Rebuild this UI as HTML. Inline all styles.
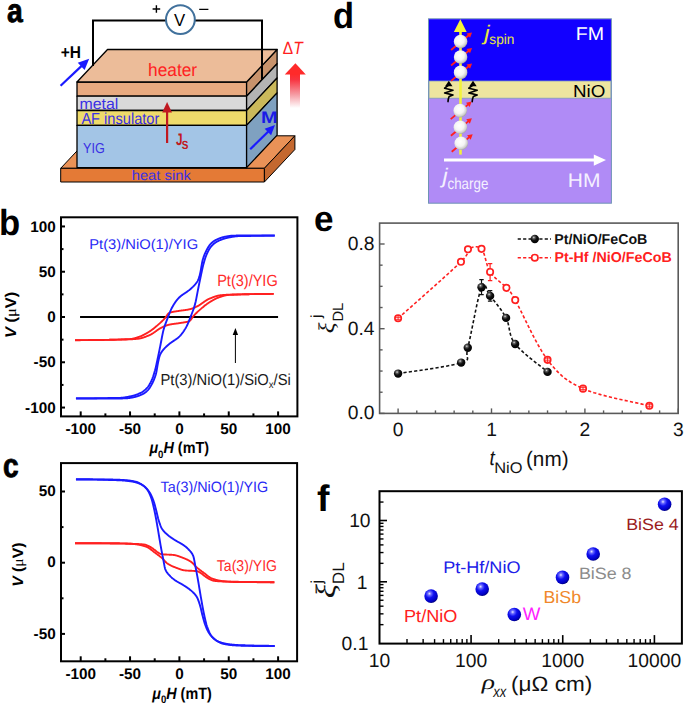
<!DOCTYPE html>
<html><head><meta charset="utf-8"><style>html,body{margin:0;padding:0;background:#fff;} svg{display:block;text-rendering:geometricPrecision;}</style></head>
<body><svg width="685" height="706" viewBox="0 0 685 706">
<rect width="685" height="706" fill="#fff"/>
<defs>
<radialGradient id="gw" cx="0.42" cy="0.38" r="0.62">
 <stop offset="0" stop-color="#ffffff"/><stop offset="0.55" stop-color="#f4f4f4"/><stop offset="0.85" stop-color="#cfcfcf"/><stop offset="1" stop-color="#a8a8a8"/>
</radialGradient>
<radialGradient id="gb" cx="0.38" cy="0.32" r="0.7">
 <stop offset="0" stop-color="#e8e8ff"/><stop offset="0.18" stop-color="#6a6aff"/><stop offset="0.45" stop-color="#1010f0"/><stop offset="0.85" stop-color="#0000c0"/><stop offset="1" stop-color="#00007a"/>
</radialGradient>
<radialGradient id="gk" cx="0.38" cy="0.32" r="0.7">
 <stop offset="0" stop-color="#e0e0e0"/><stop offset="0.2" stop-color="#606060"/><stop offset="0.5" stop-color="#101010"/><stop offset="1" stop-color="#000"/>
</radialGradient>
<linearGradient id="gr" x1="0" y1="0" x2="0" y2="1">
 <stop offset="0" stop-color="#ff2a2a"/><stop offset="0.15" stop-color="#f83440"/><stop offset="0.55" stop-color="#f59aa2"/><stop offset="0.92" stop-color="#ffffff"/>
</linearGradient>
</defs>
<g id="La" transform="translate(6.927,22.089) scale(0.7752,0.9030)"><text x="0" y="0" font-family='"Liberation Sans", sans-serif' font-size="36.5" fill="#000" font-weight="bold" font-style="normal" text-anchor="start" stroke="#000" stroke-width="0.9">a</text></g>
<g id="Lb" transform="translate(-0.985,234.968) scale(0.9506,0.9944)"><text x="0" y="0" font-family='"Liberation Sans", sans-serif' font-size="36.5" fill="#000" font-weight="bold" font-style="normal" text-anchor="start" >b</text></g>
<g id="Lc" transform="translate(3.025,476.686) scale(0.7706,0.9204)"><text x="0" y="0" font-family='"Liberation Sans", sans-serif' font-size="36.5" fill="#000" font-weight="bold" font-style="normal" text-anchor="start" stroke="#000" stroke-width="0.9">c</text></g>
<g id="Ld" transform="translate(332.888,27.514) scale(0.9433,0.9946)"><text x="0" y="0" font-family='"Liberation Sans", sans-serif' font-size="36.5" fill="#000" font-weight="bold" font-style="normal" text-anchor="start" >d</text></g>
<g id="Le" transform="translate(313.957,231.006) scale(0.9616,0.9834)"><text x="0" y="0" font-family='"Liberation Sans", sans-serif' font-size="36.5" fill="#000" font-weight="bold" font-style="normal" text-anchor="start" >e</text></g>
<g id="Lf" transform="translate(316.959,510.987) scale(1.0261,1.0080)"><text x="0" y="0" font-family='"Liberation Sans", sans-serif' font-size="36.5" fill="#000" font-weight="bold" font-style="normal" text-anchor="start" >f</text></g>
<polygon points="60.7,168.3 264.4,168.3 294.9,135.8 91.2,135.8" fill="#ea9257" stroke="#000" stroke-width="1.0" stroke-linejoin="round"/>
<polygon points="60.7,168.3 264.4,168.3 264.4,182 60.7,182" fill="#e47a36" stroke="#000" stroke-width="1.0" stroke-linejoin="round"/>
<polygon points="264.4,168.3 294.9,135.8 294.9,149.5 264.4,182" fill="#c4682f" stroke="#000" stroke-width="1.0" stroke-linejoin="round"/>
<polygon points="77,82 246.6,82 246.6,96.2 77,96.2" fill="#e8aa80" stroke="#000" stroke-width="1.3" stroke-linejoin="round"/>
<polygon points="246.6,82 277.1,49.5 277.1,63.7 246.6,96.2" fill="#c8936c" stroke="#000" stroke-width="1.3" stroke-linejoin="round"/>
<polygon points="77,96.2 246.6,96.2 246.6,110.5 77,110.5" fill="#d9d9d9" stroke="#000" stroke-width="1.3" stroke-linejoin="round"/>
<polygon points="246.6,96.2 277.1,63.7 277.1,78 246.6,110.5" fill="#b4b4b4" stroke="#000" stroke-width="1.3" stroke-linejoin="round"/>
<polygon points="77,110.5 246.6,110.5 246.6,125.4 77,125.4" fill="#efdb6b" stroke="#000" stroke-width="1.3" stroke-linejoin="round"/>
<polygon points="246.6,110.5 277.1,78 277.1,92.9 246.6,125.4" fill="#cbb95b" stroke="#000" stroke-width="1.3" stroke-linejoin="round"/>
<polygon points="77,125.4 246.6,125.4 246.6,167.6 77,167.6" fill="#a3c5e6" stroke="#000" stroke-width="1.3" stroke-linejoin="round"/>
<polygon points="246.6,125.4 277.1,92.9 277.1,135.1 246.6,167.6" fill="#7fa1c0" stroke="#000" stroke-width="1.3" stroke-linejoin="round"/>
<polygon points="77,82 246.6,82 277.1,49.5 107.5,49.5" fill="#ecbc99" stroke="#000" stroke-width="1.3" stroke-linejoin="round"/>
<path d="M93,66 V20.4 H166 M194.8,20.4 H262 V80" fill="none" stroke="#000" stroke-width="2"/>
<circle cx="180.4" cy="19.6" r="14.4" fill="#fff" stroke="#41719c" stroke-width="2"/>
<g id="aV" transform="translate(174.045,25.640) scale(1.0148,1.0492)"><text x="0" y="0" font-family='"Liberation Sans", sans-serif' font-size="16.5" fill="#000" font-weight="normal" font-style="normal" text-anchor="start" >V</text></g>
<path d="M152.6,9 H160.2 M156.4,5.2 V12.8 M199.2,9.4 H208.4" stroke="#000" stroke-width="1.4"/>
<g id="aH" transform="translate(60.695,58.085) scale(0.9686,1.0610)"><text x="0" y="0" font-family='"Liberation Sans", sans-serif' font-size="16" fill="#000" font-weight="bold" font-style="normal" text-anchor="start" >+H</text></g>
<g id="aheater" transform="translate(148.053,75.747) scale(0.9874,1.0344)"><text x="0" y="0" font-family='"Liberation Sans", sans-serif' font-size="17.5" fill="#ff2222" font-weight="normal" font-style="normal" text-anchor="start" >heater</text></g>
<g id="ametal" transform="translate(79.396,109.387) scale(0.9657,0.9310)"><text x="0" y="0" font-family='"Liberation Sans", sans-serif' font-size="16.5" fill="#3a30e4" font-weight="normal" font-style="normal" text-anchor="start" >metal</text></g>
<g id="aAF" transform="translate(81.383,123.929) scale(0.8849,0.9693)"><text x="0" y="0" font-family='"Liberation Sans", sans-serif' font-size="16.5" fill="#3a30e4" font-weight="normal" font-style="normal" text-anchor="start" >AF insulator</text></g>
<g id="aYIG" transform="translate(82.957,153.483) scale(0.8428,0.9651)"><text x="0" y="0" font-family='"Liberation Sans", sans-serif' font-size="15" fill="#3a30e4" font-weight="normal" font-style="normal" text-anchor="start" >YIG</text></g>
<g id="asink" transform="translate(131.667,180.033) scale(0.9843,0.9321)"><text x="0" y="0" font-family='"Liberation Sans", sans-serif' font-size="15" fill="#3a30e4" font-weight="normal" font-style="normal" text-anchor="start" >heat sink</text></g>
<path d="M167.1,143 V111" stroke="#c01820" stroke-width="2.2"/><polygon points="167.1,102 162.2,112.6 172,112.6" fill="#c01820"/>
<g id="aJ" transform="translate(176.059,144.504) scale(0.7348,1.0354)"><text x="0" y="0" font-family='"Liberation Sans", sans-serif' font-size="16" fill="#c01820" font-weight="bold" font-style="normal" text-anchor="start" >J</text></g>
<g id="aS" transform="translate(181.715,148.567) scale(0.9078,1.0818)"><text x="0" y="0" font-family='"Liberation Sans", sans-serif' font-size="11" fill="#c01820" font-weight="bold" font-style="normal" text-anchor="start" >S</text></g>
<line x1="60.6" y1="85.7" x2="81.92" y2="65.65" stroke="#1a1aff" stroke-width="2.2"/>
<polygon points="89.2,58.8 84.61,69.98 77.76,62.69" fill="#1a1aff"/>
<line x1="250.2" y1="149.3" x2="268.58" y2="131.21" stroke="#1a1aff" stroke-width="2.2"/>
<polygon points="275,124.9 271.1,135.19 264.65,128.63" fill="#1a1aff"/>
<g id="aM" transform="translate(260.910,123.120) scale(1.2098,1.0255)"><text x="0" y="0" font-family='"Liberation Sans", sans-serif' font-size="16.5" fill="#1a1ae6" font-weight="bold" font-style="normal" text-anchor="start" >M</text></g>
<g id="aT" transform="translate(282.818,54.447) scale(0.9116,1.0392)"><text x="0" y="0" font-family='"Liberation Sans", sans-serif' font-size="17" fill="#ff2020" font-weight="normal" font-style="normal" text-anchor="start" >&#916;<tspan font-style="italic">T</tspan></text></g>
<rect x="290" y="74" width="10" height="37" fill="url(#gr)"/><polygon points="295.4,63.3 284.8,74.6 305.8,74.6" fill="#ff2a2a"/>
<rect x="428.5" y="18.8" width="182.89999999999998" height="184.39999999999998" fill="#b08bf6" stroke="#6f93b5" stroke-width="1"/>
<rect x="429.0" y="19.3" width="181.89999999999998" height="61.7" fill="#1200ff"/>
<rect x="429.0" y="81" width="181.89999999999998" height="17.2" fill="#ede5a0" stroke="#7f9cbc" stroke-width="0.8"/>
<line x1="460.5" y1="30" x2="460.5" y2="154.6" stroke="#f3f33a" stroke-width="2.6"/>
<polygon points="460.3,19.3 453.9,32.1 466.7,32.1" fill="#f3f33a"/>
<line x1="451.1" y1="50" x2="469.03" y2="35.06" stroke="#ff2020" stroke-width="1.8"/>
<polygon points="472.1,32.5 470.05,37.85 466.47,33.55" fill="#ff2020"/>
<line x1="451.1" y1="65.5" x2="469.03" y2="50.56" stroke="#ff2020" stroke-width="1.8"/>
<polygon points="472.1,48 470.05,53.35 466.47,49.05" fill="#ff2020"/>
<line x1="451.1" y1="80.9" x2="469.03" y2="65.96" stroke="#ff2020" stroke-width="1.8"/>
<polygon points="472.1,63.4 470.05,68.75 466.47,64.45" fill="#ff2020"/>
<line x1="450.7" y1="119.1" x2="468.63" y2="104.16" stroke="#ff2020" stroke-width="1.8"/>
<polygon points="471.7,101.6 469.65,106.95 466.07,102.65" fill="#ff2020"/>
<line x1="450.9" y1="135.8" x2="468.83" y2="120.86" stroke="#ff2020" stroke-width="1.8"/>
<polygon points="471.9,118.3 469.85,123.65 466.27,119.35" fill="#ff2020"/>
<line x1="451.7" y1="151.8" x2="469.63" y2="136.86" stroke="#ff2020" stroke-width="1.8"/>
<polygon points="472.7,134.3 470.65,139.65 467.07,135.35" fill="#ff2020"/>
<circle cx="460.6" cy="41.5" r="6.8" fill="url(#gw)"/>
<circle cx="460.6" cy="57" r="6.8" fill="url(#gw)"/>
<circle cx="460.6" cy="72.4" r="6.8" fill="url(#gw)"/>
<circle cx="460.2" cy="110.6" r="6.8" fill="url(#gw)"/>
<circle cx="460.4" cy="127.3" r="6.8" fill="url(#gw)"/>
<circle cx="461.2" cy="143.3" r="6.8" fill="url(#gw)"/>
<path d="M448.8,85 L444.6,88.2 L453.0,90.2 L444.6,92.9 L453.0,95 L449.1,96.6 Q448.2,98.5 448.0,101.6" fill="none" stroke="#000" stroke-width="1.6" stroke-linejoin="round" stroke-linecap="round"/>
<polygon points="448.8,80.8 445.1,86.2 452.5,86.2" fill="#000"/>
<path d="M473,85 L468.8,88.2 L477.2,90.2 L468.8,92.9 L477.2,95 L473.3,96.6 Q472.4,98.5 472.2,101.6" fill="none" stroke="#000" stroke-width="1.6" stroke-linejoin="round" stroke-linecap="round"/>
<polygon points="473,80.8 469.3,86.2 476.7,86.2" fill="#000"/>
<g id="dj1" transform="translate(484.216,39.674) scale(1.0867,0.9517)"><text x="0" y="0" font-family='"Liberation Sans", sans-serif' font-size="22" fill="#e8e83c" font-weight="normal" font-style="italic" text-anchor="start" >j</text></g>
<g id="dspin" transform="translate(489.340,44.439) scale(0.8256,0.8478)"><text x="0" y="0" font-family='"Liberation Sans", sans-serif' font-size="16.5" fill="#e8e83c" font-weight="normal" font-style="normal" text-anchor="start" >spin</text></g>
<g id="dFM" transform="translate(575.655,40.087) scale(1.1203,1.0570)"><text x="0" y="0" font-family='"Liberation Sans", sans-serif' font-size="17.5" fill="#fff" font-weight="normal" font-style="normal" text-anchor="start" >FM</text></g>
<g id="dNiO" transform="translate(573.009,96.867) scale(1.0742,0.9885)"><text x="0" y="0" font-family='"Liberation Sans", sans-serif' font-size="17.5" fill="#000" font-weight="normal" font-style="normal" text-anchor="start" >NiO</text></g>
<line x1="444" y1="160" x2="596" y2="160" stroke="#fff" stroke-width="3"/><polygon points="606,160 593.8,154.6 593.8,165.7" fill="#fff"/>
<g id="dj2" transform="translate(442.534,183.033) scale(1.0498,0.9627)"><text x="0" y="0" font-family='"Liberation Sans", sans-serif' font-size="22" fill="#f4f0ff" font-weight="normal" font-style="italic" text-anchor="start" >j</text></g>
<g id="dcharge" transform="translate(447.469,188.504) scale(0.8098,0.9686)"><text x="0" y="0" font-family='"Liberation Sans", sans-serif' font-size="16.5" fill="#f4f0ff" font-weight="normal" font-style="normal" text-anchor="start" >charge</text></g>
<g id="dHM" transform="translate(567.828,186.572) scale(1.2010,1.1191)"><text x="0" y="0" font-family='"Liberation Sans", sans-serif' font-size="17.5" fill="#f4f0ff" font-weight="normal" font-style="normal" text-anchor="start" >HM</text></g>
<line x1="80.05" y1="317" x2="278.07" y2="317" stroke="#000" stroke-width="1.8"/>
<path d="M74.98,340.18L75.26,340.18L75.54,340.18L75.83,340.18L76.11,340.18L76.4,340.18L76.68,340.18L76.96,340.18L77.25,340.18L77.53,340.18L77.82,340.18L78.1,340.18L78.39,340.18L78.67,340.18L78.95,340.18L79.24,340.18L79.52,340.18L79.81,340.18L80.09,340.18L80.38,340.18L80.66,340.17L80.94,340.17L81.23,340.17L81.51,340.17L81.8,340.17L82.08,340.17L82.37,340.17L82.65,340.17L82.93,340.17L83.22,340.17L83.5,340.17L83.79,340.16L84.07,340.16L84.36,340.16L84.64,340.16L84.92,340.16L85.21,340.16L85.49,340.16L85.78,340.15L86.06,340.15L86.35,340.15L86.63,340.15L86.91,340.15L87.2,340.15L87.48,340.14L87.77,340.14L88.05,340.14L88.34,340.14L88.62,340.14L88.9,340.13L89.19,340.13L89.47,340.13L89.76,340.13L90.04,340.12L90.33,340.12L90.61,340.12L90.89,340.12L91.18,340.11L91.46,340.11L91.75,340.11L92.03,340.11L92.32,340.1L92.6,340.1L92.88,340.1L93.17,340.09L93.45,340.09L93.74,340.09L94.02,340.08L94.31,340.08L94.59,340.08L94.87,340.08L95.16,340.07L95.44,340.07L95.73,340.06L96.01,340.06L96.3,340.06L96.58,340.05L96.86,340.05L97.15,340.05L97.43,340.04L97.72,340.04L98,340.03L98.29,340.03L98.57,340.03L98.85,340.02L99.14,340.02L99.42,340.01L99.71,340.01L99.99,340L100.28,340L100.56,339.99L100.84,339.99L101.13,339.98L101.41,339.98L101.7,339.98L101.98,339.97L102.26,339.97L102.55,339.96L102.83,339.95L103.12,339.95L103.4,339.94L103.69,339.94L103.97,339.93L104.25,339.93L104.54,339.92L104.82,339.92L105.11,339.91L105.39,339.9L105.68,339.9L105.96,339.89L106.24,339.89L106.53,339.88L106.81,339.87L107.1,339.87L107.38,339.86L107.67,339.86L107.95,339.85L108.23,339.84L108.52,339.84L108.8,339.83L109.09,339.82L109.37,339.82L109.66,339.81L109.94,339.8L110.22,339.79L110.51,339.79L110.79,339.78L111.08,339.77L111.36,339.77L111.65,339.76L111.93,339.75L112.21,339.74L112.5,339.73L112.78,339.73L113.07,339.72L113.35,339.71L113.64,339.7L113.92,339.69L114.2,339.69L114.49,339.68L114.77,339.67L115.06,339.66L115.34,339.65L115.63,339.64L115.91,339.64L116.19,339.63L116.48,339.62L116.76,339.61L117.05,339.6L117.33,339.59L117.62,339.58L117.9,339.57L118.18,339.56L118.47,339.55L118.75,339.54L119.04,339.53L119.32,339.52L119.61,339.51L119.89,339.5L120.17,339.49L120.46,339.48L120.74,339.47L121.03,339.46L121.31,339.45L121.6,339.44L121.88,339.43L122.16,339.42L122.45,339.41L122.73,339.4L123.02,339.39L123.3,339.38L123.59,339.37L123.87,339.36L124.15,339.35L124.44,339.33L124.72,339.32L125.01,339.31L125.29,339.3L125.58,339.29L125.86,339.28L126.14,339.26L126.43,339.25L126.71,339.24L127,339.23L127.28,339.22L127.57,339.2L127.85,339.19L128.13,339.18L128.42,339.16L128.7,339.15L128.99,339.14L129.27,339.13L129.55,339.11L129.84,339.1L130.12,339.09L130.41,339.07L130.69,339.04L130.98,339.01L131.26,338.98L131.54,338.94L131.83,338.89L132.11,338.85L132.4,338.79L132.68,338.74L132.97,338.67L133.25,338.61L133.53,338.54L133.82,338.47L134.1,338.4L134.39,338.32L134.67,338.24L134.96,338.16L135.24,338.08L135.52,337.99L135.81,337.91L136.09,337.82L136.38,337.73L136.66,337.64L136.95,337.54L137.23,337.45L137.51,337.36L137.8,337.26L138.08,337.17L138.37,337.08L138.65,336.98L138.94,336.89L139.22,336.79L139.5,336.69L139.79,336.59L140.07,336.48L140.36,336.37L140.64,336.26L140.93,336.14L141.21,336.02L141.49,335.9L141.78,335.77L142.06,335.64L142.35,335.51L142.63,335.37L142.92,335.23L143.2,335.09L143.48,334.95L143.77,334.81L144.05,334.66L144.34,334.51L144.62,334.36L144.91,334.2L145.19,334.05L145.47,333.89L145.76,333.73L146.04,333.57L146.33,333.4L146.61,333.24L146.9,333.07L147.18,332.9L147.46,332.74L147.75,332.57L148.03,332.39L148.32,332.22L148.6,332.05L148.89,331.88L149.17,331.7L149.45,331.52L149.74,331.34L150.02,331.16L150.31,330.97L150.59,330.77L150.88,330.58L151.16,330.38L151.44,330.18L151.73,329.97L152.01,329.76L152.3,329.55L152.58,329.34L152.87,329.12L153.15,328.9L153.43,328.68L153.72,328.45L154,328.23L154.29,328L154.57,327.77L154.85,327.53L155.14,327.3L155.42,327.06L155.71,326.82L155.99,326.58L156.28,326.34L156.56,326.1L156.84,325.86L157.13,325.61L157.41,325.37L157.7,325.12L157.98,324.87L158.27,324.62L158.55,324.37L158.83,324.13L159.12,323.88L159.4,323.63L159.69,323.37L159.97,323.12L160.26,322.86L160.54,322.6L160.82,322.34L161.11,322.07L161.39,321.8L161.68,321.53L161.96,321.26L162.25,320.98L162.53,320.7L162.81,320.42L163.1,320.14L163.38,319.85L163.67,319.56L163.95,319.26L164.24,318.96L164.52,318.66L164.8,318.35L165.09,318.04L165.37,317.7L165.66,317.32L165.94,316.93L166.23,316.51L166.51,316.09L166.79,315.66L167.08,315.24L167.36,314.83L167.65,314.43L167.93,314.06L168.22,313.73L168.5,313.43L168.78,313.18L169.07,312.98L169.35,312.84L169.64,312.73L169.92,312.63L170.21,312.54L170.49,312.45L170.77,312.36L171.06,312.28L171.34,312.21L171.63,312.14L171.91,312.07L172.2,312.01L172.48,311.95L172.76,311.89L173.05,311.84L173.33,311.78L173.62,311.73L173.9,311.69L174.19,311.64L174.47,311.6L174.75,311.55L175.04,311.51L175.32,311.47L175.61,311.43L175.89,311.39L176.18,311.35L176.46,311.3L176.74,311.26L177.03,311.22L177.31,311.18L177.6,311.13L177.88,311.08L178.17,311.03L178.45,310.98L178.73,310.94L179.02,310.89L179.3,310.84L179.59,310.8L179.87,310.76L180.16,310.72L180.44,310.67L180.72,310.63L181.01,310.6L181.29,310.56L181.58,310.52L181.86,310.48L182.14,310.44L182.43,310.41L182.71,310.37L183,310.33L183.28,310.3L183.57,310.26L183.85,310.23L184.13,310.19L184.42,310.15L184.7,310.11L184.99,310.08L185.27,310.04L185.56,310L185.84,309.96L186.12,309.91L186.41,309.87L186.69,309.83L186.98,309.78L187.26,309.73L187.55,309.69L187.83,309.64L188.11,309.59L188.4,309.53L188.68,309.48L188.97,309.42L189.25,309.36L189.54,309.3L189.82,309.24L190.1,309.17L190.39,309.1L190.67,309.02L190.96,308.94L191.24,308.85L191.53,308.76L191.81,308.67L192.09,308.57L192.38,308.47L192.66,308.36L192.95,308.25L193.23,308.14L193.52,308.02L193.8,307.9L194.08,307.78L194.37,307.65L194.65,307.53L194.94,307.4L195.22,307.27L195.51,307.14L195.79,307L196.07,306.87L196.36,306.74L196.64,306.6L196.93,306.46L197.21,306.33L197.5,306.19L197.78,306.04L198.06,305.89L198.35,305.73L198.63,305.57L198.92,305.4L199.2,305.23L199.49,305.05L199.77,304.86L200.05,304.68L200.34,304.48L200.62,304.29L200.91,304.09L201.19,303.9L201.48,303.69L201.76,303.49L202.04,303.29L202.33,303.08L202.61,302.88L202.9,302.67L203.18,302.47L203.47,302.26L203.75,302.06L204.03,301.85L204.32,301.65L204.6,301.45L204.89,301.26L205.17,301.06L205.46,300.87L205.74,300.69L206.02,300.5L206.31,300.32L206.59,300.15L206.88,299.98L207.16,299.82L207.45,299.66L207.73,299.51L208.01,299.36L208.3,299.23L208.58,299.09L208.87,298.97L209.15,298.85L209.43,298.73L209.72,298.61L210,298.49L210.29,298.37L210.57,298.25L210.86,298.14L211.14,298.02L211.42,297.9L211.71,297.79L211.99,297.67L212.28,297.56L212.56,297.45L212.85,297.34L213.13,297.23L213.41,297.12L213.7,297.02L213.98,296.91L214.27,296.81L214.55,296.71L214.84,296.62L215.12,296.52L215.4,296.43L215.69,296.34L215.97,296.25L216.26,296.16L216.54,296.08L216.83,296L217.11,295.92L217.39,295.85L217.68,295.78L217.96,295.71L218.25,295.65L218.53,295.59L218.82,295.53L219.1,295.48L219.38,295.43L219.67,295.38L219.95,295.34L220.24,295.3L220.52,295.27L220.81,295.24L221.09,295.21L221.37,295.18L221.66,295.15L221.94,295.13L222.23,295.1L222.51,295.07L222.8,295.05L223.08,295.02L223.36,295L223.65,294.98L223.93,294.95L224.22,294.93L224.5,294.91L224.79,294.89L225.07,294.87L225.35,294.85L225.64,294.83L225.92,294.82L226.21,294.8L226.49,294.78L226.78,294.77L227.06,294.75L227.34,294.74L227.63,294.72L227.91,294.71L228.2,294.7L228.48,294.69L228.77,294.68L229.05,294.67L229.33,294.66L229.62,294.65L229.9,294.64L230.19,294.63L230.47,294.62L230.76,294.61L231.04,294.6L231.32,294.6L231.61,294.59L231.89,294.58L232.18,294.57L232.46,294.56L232.75,294.56L233.03,294.55L233.31,294.54L233.6,294.53L233.88,294.52L234.17,294.52L234.45,294.51L234.73,294.5L235.02,294.49L235.3,294.49L235.59,294.48L235.87,294.47L236.16,294.46L236.44,294.46L236.72,294.45L237.01,294.44L237.29,294.44L237.58,294.43L237.86,294.42L238.15,294.41L238.43,294.41L238.71,294.4L239,294.39L239.28,294.39L239.57,294.38L239.85,294.37L240.14,294.37L240.42,294.36L240.7,294.35L240.99,294.35L241.27,294.34L241.56,294.33L241.84,294.33L242.13,294.32L242.41,294.31L242.69,294.31L242.98,294.3L243.26,294.29L243.55,294.29L243.83,294.28L244.12,294.28L244.4,294.27L244.68,294.26L244.97,294.26L245.25,294.25L245.54,294.25L245.82,294.24L246.11,294.23L246.39,294.23L246.67,294.22L246.96,294.22L247.24,294.21L247.53,294.21L247.81,294.2L248.1,294.19L248.38,294.19L248.66,294.18L248.95,294.18L249.23,294.17L249.52,294.17L249.8,294.16L250.09,294.16L250.37,294.15L250.65,294.15L250.94,294.14L251.22,294.14L251.51,294.13L251.79,294.13L252.08,294.12L252.36,294.12L252.64,294.11L252.93,294.11L253.21,294.1L253.5,294.1L253.78,294.1L254.07,294.09L254.35,294.09L254.63,294.08L254.92,294.08L255.2,294.07L255.49,294.07L255.77,294.07L256.06,294.06L256.34,294.06L256.62,294.05L256.91,294.05L257.19,294.05L257.48,294.04L257.76,294.04L258.05,294.03L258.33,294.03L258.61,294.03L258.9,294.02L259.18,294.02L259.47,294.02L259.75,294.01L260.04,294.01L260.32,294.01L260.6,294L260.89,294L261.17,294L261.46,293.99L261.74,293.99L262.02,293.99L262.31,293.98L262.59,293.98L262.88,293.98L263.16,293.98L263.45,293.97L263.73,293.97L264.01,293.97L264.3,293.97L264.58,293.96L264.87,293.96L265.15,293.96L265.44,293.96L265.72,293.95L266,293.95L266.29,293.95L266.57,293.95L266.86,293.95L267.14,293.94L267.43,293.94L267.71,293.94L267.99,293.94L268.28,293.94L268.56,293.93L268.85,293.93L269.13,293.93L269.42,293.93L269.7,293.93L269.98,293.93L270.27,293.93L270.55,293.92L270.84,293.92L271.12,293.92L271.41,293.92L271.69,293.92L271.97,293.92L272.26,293.92L272.54,293.92L272.83,293.92L273.11,293.91L273.4,293.91L273.68,293.91" fill="none" stroke="#ff2020" stroke-width="1.9" stroke-linejoin="round"/>
<path d="M74.98,340.09L75.26,340.09L75.54,340.09L75.83,340.09L76.11,340.09L76.4,340.09L76.68,340.09L76.96,340.09L77.25,340.09L77.53,340.09L77.82,340.09L78.1,340.09L78.39,340.09L78.67,340.09L78.95,340.09L79.24,340.09L79.52,340.09L79.81,340.09L80.09,340.09L80.38,340.09L80.66,340.09L80.94,340.09L81.23,340.09L81.51,340.09L81.8,340.09L82.08,340.09L82.37,340.09L82.65,340.09L82.93,340.09L83.22,340.09L83.5,340.09L83.79,340.09L84.07,340.09L84.36,340.09L84.64,340.09L84.92,340.09L85.21,340.09L85.49,340.09L85.78,340.08L86.06,340.08L86.35,340.08L86.63,340.08L86.91,340.08L87.2,340.08L87.48,340.08L87.77,340.08L88.05,340.08L88.34,340.07L88.62,340.07L88.9,340.07L89.19,340.07L89.47,340.07L89.76,340.07L90.04,340.07L90.33,340.06L90.61,340.06L90.89,340.06L91.18,340.06L91.46,340.06L91.75,340.05L92.03,340.05L92.32,340.05L92.6,340.05L92.88,340.05L93.17,340.04L93.45,340.04L93.74,340.04L94.02,340.04L94.31,340.03L94.59,340.03L94.87,340.03L95.16,340.03L95.44,340.02L95.73,340.02L96.01,340.02L96.3,340.02L96.58,340.01L96.86,340.01L97.15,340.01L97.43,340L97.72,340L98,340L98.29,339.99L98.57,339.99L98.85,339.99L99.14,339.98L99.42,339.98L99.71,339.98L99.99,339.97L100.28,339.97L100.56,339.97L100.84,339.96L101.13,339.96L101.41,339.95L101.7,339.95L101.98,339.95L102.26,339.94L102.55,339.94L102.83,339.93L103.12,339.93L103.4,339.93L103.69,339.92L103.97,339.92L104.25,339.91L104.54,339.91L104.82,339.9L105.11,339.9L105.39,339.9L105.68,339.89L105.96,339.89L106.24,339.88L106.53,339.88L106.81,339.87L107.1,339.87L107.38,339.86L107.67,339.86L107.95,339.85L108.23,339.85L108.52,339.84L108.8,339.84L109.09,339.83L109.37,339.83L109.66,339.82L109.94,339.82L110.22,339.81L110.51,339.81L110.79,339.8L111.08,339.79L111.36,339.79L111.65,339.78L111.93,339.78L112.21,339.77L112.5,339.77L112.78,339.76L113.07,339.75L113.35,339.75L113.64,339.74L113.92,339.74L114.2,339.73L114.49,339.72L114.77,339.72L115.06,339.71L115.34,339.71L115.63,339.7L115.91,339.69L116.19,339.69L116.48,339.68L116.76,339.67L117.05,339.67L117.33,339.66L117.62,339.65L117.9,339.65L118.18,339.64L118.47,339.63L118.75,339.63L119.04,339.62L119.32,339.61L119.61,339.61L119.89,339.6L120.17,339.59L120.46,339.59L120.74,339.58L121.03,339.57L121.31,339.56L121.6,339.56L121.88,339.55L122.16,339.54L122.45,339.54L122.73,339.53L123.02,339.52L123.3,339.51L123.59,339.51L123.87,339.5L124.15,339.49L124.44,339.48L124.72,339.48L125.01,339.47L125.29,339.46L125.58,339.45L125.86,339.44L126.14,339.44L126.43,339.43L126.71,339.42L127,339.41L127.28,339.4L127.57,339.4L127.85,339.39L128.13,339.38L128.42,339.37L128.7,339.36L128.99,339.35L129.27,339.34L129.55,339.33L129.84,339.32L130.12,339.31L130.41,339.3L130.69,339.29L130.98,339.28L131.26,339.26L131.54,339.25L131.83,339.23L132.11,339.22L132.4,339.2L132.68,339.18L132.97,339.17L133.25,339.15L133.53,339.13L133.82,339.11L134.1,339.09L134.39,339.07L134.67,339.05L134.96,339.02L135.24,339L135.52,338.98L135.81,338.95L136.09,338.93L136.38,338.9L136.66,338.87L136.95,338.85L137.23,338.82L137.51,338.79L137.8,338.76L138.08,338.73L138.37,338.7L138.65,338.66L138.94,338.62L139.22,338.57L139.5,338.52L139.79,338.47L140.07,338.41L140.36,338.35L140.64,338.29L140.93,338.22L141.21,338.15L141.49,338.08L141.78,338L142.06,337.92L142.35,337.84L142.63,337.75L142.92,337.66L143.2,337.57L143.48,337.48L143.77,337.38L144.05,337.29L144.34,337.19L144.62,337.08L144.91,336.98L145.19,336.88L145.47,336.77L145.76,336.66L146.04,336.55L146.33,336.44L146.61,336.32L146.9,336.21L147.18,336.1L147.46,335.98L147.75,335.86L148.03,335.74L148.32,335.63L148.6,335.51L148.89,335.39L149.17,335.27L149.45,335.15L149.74,335.03L150.02,334.9L150.31,334.77L150.59,334.63L150.88,334.49L151.16,334.34L151.44,334.18L151.73,334.02L152.01,333.85L152.3,333.67L152.58,333.49L152.87,333.31L153.15,333.12L153.43,332.93L153.72,332.74L154,332.54L154.29,332.34L154.57,332.14L154.85,331.94L155.14,331.74L155.42,331.53L155.71,331.33L155.99,331.12L156.28,330.91L156.56,330.71L156.84,330.51L157.13,330.3L157.41,330.1L157.7,329.9L157.98,329.71L158.27,329.51L158.55,329.32L158.83,329.13L159.12,328.95L159.4,328.77L159.69,328.6L159.97,328.43L160.26,328.26L160.54,328.11L160.82,327.95L161.11,327.81L161.39,327.67L161.68,327.53L161.96,327.4L162.25,327.26L162.53,327.13L162.81,326.99L163.1,326.86L163.38,326.73L163.67,326.6L163.95,326.47L164.24,326.34L164.52,326.22L164.8,326.1L165.09,325.98L165.37,325.86L165.66,325.75L165.94,325.64L166.23,325.53L166.51,325.43L166.79,325.33L167.08,325.23L167.36,325.14L167.65,325.06L167.93,324.98L168.22,324.9L168.5,324.83L168.78,324.76L169.07,324.7L169.35,324.64L169.64,324.58L169.92,324.52L170.21,324.47L170.49,324.41L170.77,324.36L171.06,324.31L171.34,324.26L171.63,324.22L171.91,324.17L172.2,324.13L172.48,324.09L172.76,324.04L173.05,324L173.33,323.96L173.62,323.92L173.9,323.89L174.19,323.85L174.47,323.81L174.75,323.77L175.04,323.74L175.32,323.7L175.61,323.66L175.89,323.63L176.18,323.59L176.46,323.55L176.74,323.52L177.03,323.48L177.31,323.44L177.6,323.4L177.88,323.36L178.17,323.32L178.45,323.28L178.73,323.24L179.02,323.2L179.3,323.16L179.59,323.11L179.87,323.06L180.16,323.01L180.44,322.96L180.72,322.92L181.01,322.87L181.29,322.82L181.58,322.78L181.86,322.74L182.14,322.69L182.43,322.65L182.71,322.61L183,322.57L183.28,322.53L183.57,322.49L183.85,322.45L184.13,322.4L184.42,322.36L184.7,322.31L184.99,322.27L185.27,322.22L185.56,322.16L185.84,322.11L186.12,322.05L186.41,321.99L186.69,321.93L186.98,321.86L187.26,321.79L187.55,321.71L187.83,321.64L188.11,321.55L188.4,321.46L188.68,321.37L188.97,321.27L189.25,321.16L189.54,321.02L189.82,320.82L190.1,320.57L190.39,320.27L190.67,319.93L190.96,319.56L191.24,319.17L191.53,318.76L191.81,318.33L192.09,317.91L192.38,317.48L192.66,317.07L192.95,316.67L193.23,316.3L193.52,315.95L193.8,315.64L194.08,315.34L194.37,315.03L194.65,314.73L194.94,314.44L195.22,314.15L195.51,313.86L195.79,313.57L196.07,313.29L196.36,313.01L196.64,312.74L196.93,312.46L197.21,312.19L197.5,311.92L197.78,311.66L198.06,311.4L198.35,311.14L198.63,310.88L198.92,310.62L199.2,310.37L199.49,310.12L199.77,309.87L200.05,309.62L200.34,309.37L200.62,309.12L200.91,308.88L201.19,308.63L201.48,308.38L201.76,308.14L202.04,307.9L202.33,307.65L202.61,307.41L202.9,307.17L203.18,306.93L203.47,306.7L203.75,306.46L204.03,306.23L204.32,306L204.6,305.77L204.89,305.54L205.17,305.32L205.46,305.1L205.74,304.88L206.02,304.66L206.31,304.45L206.59,304.23L206.88,304.03L207.16,303.82L207.45,303.62L207.73,303.42L208.01,303.22L208.3,303.03L208.58,302.84L208.87,302.66L209.15,302.47L209.43,302.3L209.72,302.12L210,301.95L210.29,301.77L210.57,301.6L210.86,301.43L211.14,301.26L211.42,301.09L211.71,300.93L211.99,300.76L212.28,300.59L212.56,300.43L212.85,300.27L213.13,300.11L213.41,299.95L213.7,299.8L213.98,299.64L214.27,299.49L214.55,299.34L214.84,299.19L215.12,299.05L215.4,298.9L215.69,298.76L215.97,298.63L216.26,298.49L216.54,298.36L216.83,298.23L217.11,298.1L217.39,297.98L217.68,297.86L217.96,297.74L218.25,297.63L218.53,297.52L218.82,297.41L219.1,297.31L219.38,297.21L219.67,297.11L219.95,297.02L220.24,296.92L220.52,296.83L220.81,296.74L221.09,296.64L221.37,296.55L221.66,296.46L221.94,296.36L222.23,296.27L222.51,296.18L222.8,296.09L223.08,296.01L223.36,295.92L223.65,295.84L223.93,295.76L224.22,295.68L224.5,295.6L224.79,295.53L225.07,295.46L225.35,295.39L225.64,295.32L225.92,295.26L226.21,295.21L226.49,295.15L226.78,295.11L227.06,295.06L227.34,295.02L227.63,294.99L227.91,294.96L228.2,294.93L228.48,294.91L228.77,294.9L229.05,294.89L229.33,294.87L229.62,294.86L229.9,294.85L230.19,294.83L230.47,294.82L230.76,294.81L231.04,294.8L231.32,294.78L231.61,294.77L231.89,294.76L232.18,294.75L232.46,294.74L232.75,294.72L233.03,294.71L233.31,294.7L233.6,294.69L233.88,294.68L234.17,294.67L234.45,294.65L234.73,294.64L235.02,294.63L235.3,294.62L235.59,294.61L235.87,294.6L236.16,294.59L236.44,294.58L236.72,294.57L237.01,294.56L237.29,294.55L237.58,294.54L237.86,294.53L238.15,294.52L238.43,294.51L238.71,294.5L239,294.49L239.28,294.48L239.57,294.47L239.85,294.46L240.14,294.45L240.42,294.44L240.7,294.43L240.99,294.42L241.27,294.41L241.56,294.4L241.84,294.39L242.13,294.38L242.41,294.37L242.69,294.36L242.98,294.36L243.26,294.35L243.55,294.34L243.83,294.33L244.12,294.32L244.4,294.31L244.68,294.31L244.97,294.3L245.25,294.29L245.54,294.28L245.82,294.27L246.11,294.27L246.39,294.26L246.67,294.25L246.96,294.24L247.24,294.23L247.53,294.23L247.81,294.22L248.1,294.21L248.38,294.21L248.66,294.2L248.95,294.19L249.23,294.18L249.52,294.18L249.8,294.17L250.09,294.16L250.37,294.16L250.65,294.15L250.94,294.14L251.22,294.14L251.51,294.13L251.79,294.13L252.08,294.12L252.36,294.11L252.64,294.11L252.93,294.1L253.21,294.1L253.5,294.09L253.78,294.08L254.07,294.08L254.35,294.07L254.63,294.07L254.92,294.06L255.2,294.06L255.49,294.05L255.77,294.05L256.06,294.04L256.34,294.03L256.62,294.03L256.91,294.02L257.19,294.02L257.48,294.02L257.76,294.01L258.05,294.01L258.33,294L258.61,294L258.9,293.99L259.18,293.99L259.47,293.98L259.75,293.98L260.04,293.97L260.32,293.97L260.6,293.97L260.89,293.96L261.17,293.96L261.46,293.95L261.74,293.95L262.02,293.95L262.31,293.94L262.59,293.94L262.88,293.94L263.16,293.93L263.45,293.93L263.73,293.92L264.01,293.92L264.3,293.92L264.58,293.91L264.87,293.91L265.15,293.91L265.44,293.91L265.72,293.9L266,293.9L266.29,293.9L266.57,293.89L266.86,293.89L267.14,293.89L267.43,293.89L267.71,293.88L267.99,293.88L268.28,293.88L268.56,293.88L268.85,293.87L269.13,293.87L269.42,293.87L269.7,293.87L269.98,293.86L270.27,293.86L270.55,293.86L270.84,293.86L271.12,293.86L271.41,293.85L271.69,293.85L271.97,293.85L272.26,293.85L272.54,293.85L272.83,293.85L273.11,293.84L273.4,293.84L273.68,293.84" fill="none" stroke="#ff2020" stroke-width="1.9" stroke-linejoin="round"/>
<path d="M75.95,398.31L76.23,398.31L76.52,398.31L76.8,398.31L77.09,398.31L77.37,398.31L77.66,398.31L77.94,398.31L78.23,398.31L78.51,398.31L78.79,398.31L79.08,398.31L79.36,398.31L79.65,398.31L79.93,398.31L80.22,398.31L80.5,398.31L80.78,398.3L81.07,398.3L81.35,398.3L81.64,398.3L81.92,398.3L82.21,398.3L82.49,398.3L82.78,398.29L83.06,398.29L83.34,398.29L83.63,398.29L83.91,398.29L84.2,398.29L84.48,398.28L84.77,398.28L85.05,398.28L85.34,398.28L85.62,398.28L85.9,398.28L86.19,398.27L86.47,398.27L86.76,398.27L87.04,398.27L87.33,398.26L87.61,398.26L87.9,398.26L88.18,398.26L88.46,398.26L88.75,398.25L89.03,398.25L89.32,398.25L89.6,398.25L89.89,398.24L90.17,398.24L90.45,398.24L90.74,398.24L91.02,398.23L91.31,398.23L91.59,398.23L91.88,398.23L92.16,398.22L92.45,398.22L92.73,398.22L93.01,398.21L93.3,398.21L93.58,398.21L93.87,398.21L94.15,398.2L94.44,398.2L94.72,398.2L95.01,398.2L95.29,398.19L95.57,398.19L95.86,398.19L96.14,398.18L96.43,398.18L96.71,398.18L97,398.18L97.28,398.17L97.57,398.17L97.85,398.17L98.13,398.16L98.42,398.16L98.7,398.16L98.99,398.16L99.27,398.15L99.56,398.15L99.84,398.15L100.12,398.14L100.41,398.14L100.69,398.14L100.98,398.14L101.26,398.13L101.55,398.13L101.83,398.13L102.12,398.13L102.4,398.12L102.68,398.12L102.97,398.12L103.25,398.11L103.54,398.11L103.82,398.11L104.11,398.11L104.39,398.1L104.68,398.1L104.96,398.1L105.24,398.1L105.53,398.09L105.81,398.09L106.1,398.09L106.38,398.09L106.67,398.08L106.95,398.08L107.24,398.08L107.52,398.08L107.8,398.07L108.09,398.07L108.37,398.07L108.66,398.06L108.94,398.06L109.23,398.06L109.51,398.05L109.79,398.05L110.08,398.05L110.36,398.04L110.65,398.04L110.93,398.04L111.22,398.03L111.5,398.03L111.79,398.03L112.07,398.02L112.35,398.02L112.64,398.01L112.92,398.01L113.21,398.01L113.49,398L113.78,398L114.06,397.99L114.35,397.99L114.63,397.98L114.91,397.98L115.2,397.97L115.48,397.97L115.77,397.96L116.05,397.96L116.34,397.95L116.62,397.94L116.91,397.94L117.19,397.93L117.47,397.93L117.76,397.92L118.04,397.91L118.33,397.91L118.61,397.9L118.9,397.89L119.18,397.88L119.46,397.88L119.75,397.87L120.03,397.86L120.32,397.85L120.6,397.84L120.89,397.82L121.17,397.81L121.46,397.79L121.74,397.77L122.02,397.74L122.31,397.71L122.59,397.69L122.88,397.66L123.16,397.62L123.45,397.59L123.73,397.55L124.02,397.51L124.3,397.47L124.58,397.43L124.87,397.39L125.15,397.35L125.44,397.3L125.72,397.25L126.01,397.2L126.29,397.16L126.57,397.1L126.86,397.05L127.14,397L127.43,396.95L127.71,396.89L128,396.84L128.28,396.78L128.57,396.73L128.85,396.67L129.13,396.61L129.42,396.55L129.7,396.5L129.99,396.44L130.27,396.38L130.56,396.32L130.84,396.26L131.13,396.2L131.41,396.14L131.69,396.07L131.98,396L132.26,395.93L132.55,395.86L132.83,395.79L133.12,395.71L133.4,395.63L133.69,395.55L133.97,395.47L134.25,395.39L134.54,395.3L134.82,395.21L135.11,395.12L135.39,395.03L135.68,394.93L135.96,394.83L136.24,394.73L136.53,394.63L136.81,394.53L137.1,394.42L137.38,394.31L137.67,394.2L137.95,394.08L138.24,393.97L138.52,393.85L138.8,393.73L139.09,393.6L139.37,393.47L139.66,393.34L139.94,393.21L140.23,393.08L140.51,392.94L140.8,392.8L141.08,392.66L141.36,392.51L141.65,392.36L141.93,392.2L142.22,392.03L142.5,391.85L142.79,391.66L143.07,391.47L143.36,391.27L143.64,391.06L143.92,390.84L144.21,390.61L144.49,390.38L144.78,390.13L145.06,389.88L145.35,389.62L145.63,389.36L145.91,389.08L146.2,388.8L146.48,388.51L146.77,388.21L147.05,387.9L147.34,387.58L147.62,387.26L147.91,386.91L148.19,386.54L148.47,386.15L148.76,385.73L149.04,385.29L149.33,384.82L149.61,384.33L149.9,383.83L150.18,383.3L150.47,382.75L150.75,382.18L151.03,381.6L151.32,381L151.6,380.38L151.89,379.75L152.17,379.08L152.46,378.36L152.74,377.61L153.03,376.82L153.31,375.99L153.59,375.13L153.88,374.23L154.16,373.31L154.45,372.35L154.73,371.37L155.02,370.36L155.3,369.29L155.58,368.15L155.87,366.94L156.15,365.68L156.44,364.38L156.72,363.05L157.01,361.7L157.29,360.36L157.58,359.02L157.86,357.7L158.14,356.35L158.43,354.99L158.71,353.61L159,352.22L159.28,350.83L159.57,349.43L159.85,348.03L160.14,346.63L160.42,345.23L160.7,343.79L160.99,342.3L161.27,340.79L161.56,339.27L161.84,337.77L162.13,336.29L162.41,334.85L162.7,333.47L162.98,332.17L163.26,330.97L163.55,329.88L163.83,328.86L164.12,327.89L164.4,326.97L164.69,326.08L164.97,325.22L165.25,324.39L165.54,323.59L165.82,322.81L166.11,322.05L166.39,321.3L166.68,320.56L166.96,319.83L167.25,319.1L167.53,318.36L167.81,317.62L168.1,316.87L168.38,316.13L168.67,315.39L168.95,314.66L169.24,313.93L169.52,313.22L169.81,312.51L170.09,311.82L170.37,311.14L170.66,310.48L170.94,309.84L171.23,309.21L171.51,308.62L171.8,308.04L172.08,307.5L172.36,306.98L172.65,306.47L172.93,305.98L173.22,305.49L173.5,305.01L173.79,304.55L174.07,304.09L174.36,303.64L174.64,303.2L174.92,302.77L175.21,302.35L175.49,301.93L175.78,301.53L176.06,301.14L176.35,300.76L176.63,300.39L176.92,300.03L177.2,299.68L177.48,299.34L177.77,299.01L178.05,298.69L178.34,298.38L178.62,298.08L178.91,297.79L179.19,297.51L179.48,297.24L179.76,296.98L180.04,296.73L180.33,296.48L180.61,296.24L180.9,296.01L181.18,295.78L181.47,295.56L181.75,295.34L182.03,295.13L182.32,294.92L182.6,294.72L182.89,294.52L183.17,294.32L183.46,294.13L183.74,293.93L184.03,293.74L184.31,293.55L184.59,293.37L184.88,293.18L185.16,292.99L185.45,292.8L185.73,292.61L186.02,292.42L186.3,292.23L186.59,292.04L186.87,291.84L187.15,291.65L187.44,291.44L187.72,291.24L188.01,291.03L188.29,290.82L188.58,290.6L188.86,290.37L189.15,290.14L189.43,289.91L189.71,289.66L190,289.42L190.28,289.17L190.57,288.92L190.85,288.67L191.14,288.42L191.42,288.17L191.7,287.92L191.99,287.66L192.27,287.4L192.56,287.13L192.84,286.86L193.13,286.59L193.41,286.3L193.7,286.01L193.98,285.72L194.26,285.41L194.55,285.1L194.83,284.77L195.12,284.44L195.4,284.1L195.69,283.74L195.97,283.37L196.26,283L196.54,282.61L196.82,282.22L197.11,281.79L197.39,281.35L197.68,280.86L197.96,280.34L198.25,279.78L198.53,279.16L198.82,278.48L199.1,277.64L199.38,276.61L199.67,275.44L199.95,274.2L200.24,272.92L200.52,271.58L200.81,270.06L201.09,268.42L201.37,266.74L201.66,265.06L201.94,263.45L202.23,261.97L202.51,260.67L202.8,259.62L203.08,258.67L203.37,257.77L203.65,256.92L203.93,256.12L204.22,255.36L204.5,254.64L204.79,253.96L205.07,253.3L205.36,252.67L205.64,252.07L205.93,251.49L206.21,250.92L206.49,250.36L206.78,249.82L207.06,249.28L207.35,248.76L207.63,248.25L207.92,247.75L208.2,247.28L208.49,246.81L208.77,246.37L209.05,245.94L209.34,245.53L209.62,245.15L209.91,244.79L210.19,244.45L210.48,244.13L210.76,243.84L211.04,243.55L211.33,243.27L211.61,243L211.9,242.73L212.18,242.48L212.47,242.23L212.75,241.99L213.04,241.76L213.32,241.54L213.6,241.33L213.89,241.13L214.17,240.93L214.46,240.74L214.74,240.56L215.03,240.39L215.31,240.23L215.6,240.08L215.88,239.93L216.16,239.79L216.45,239.66L216.73,239.52L217.02,239.39L217.3,239.26L217.59,239.13L217.87,239.01L218.15,238.89L218.44,238.77L218.72,238.65L219.01,238.54L219.29,238.42L219.58,238.31L219.86,238.21L220.15,238.1L220.43,238L220.71,237.9L221,237.81L221.28,237.71L221.57,237.62L221.85,237.53L222.14,237.45L222.42,237.37L222.71,237.29L222.99,237.21L223.27,237.13L223.56,237.06L223.84,236.99L224.13,236.93L224.41,236.86L224.7,236.8L224.98,236.75L225.27,236.69L225.55,236.64L225.83,236.59L226.12,236.53L226.4,236.48L226.69,236.43L226.97,236.38L227.26,236.33L227.54,236.28L227.82,236.23L228.11,236.18L228.39,236.13L228.68,236.09L228.96,236.04L229.25,236L229.53,235.96L229.82,235.92L230.1,235.88L230.38,235.84L230.67,235.81L230.95,235.78L231.24,235.75L231.52,235.72L231.81,235.69L232.09,235.67L232.38,235.65L232.66,235.63L232.94,235.62L233.23,235.61L233.51,235.6L233.8,235.6L234.08,235.59L234.37,235.59L234.65,235.59L234.94,235.58L235.22,235.58L235.5,235.58L235.79,235.58L236.07,235.57L236.36,235.57L236.64,235.57L236.93,235.57L237.21,235.56L237.49,235.56L237.78,235.56L238.06,235.55L238.35,235.55L238.63,235.55L238.92,235.55L239.2,235.55L239.49,235.54L239.77,235.54L240.05,235.54L240.34,235.54L240.62,235.53L240.91,235.53L241.19,235.53L241.48,235.53L241.76,235.52L242.05,235.52L242.33,235.52L242.61,235.52L242.9,235.52L243.18,235.51L243.47,235.51L243.75,235.51L244.04,235.51L244.32,235.51L244.61,235.5L244.89,235.5L245.17,235.5L245.46,235.5L245.74,235.5L246.03,235.5L246.31,235.49L246.6,235.49L246.88,235.49L247.16,235.49L247.45,235.49L247.73,235.49L248.02,235.48L248.3,235.48L248.59,235.48L248.87,235.48L249.16,235.48L249.44,235.48L249.72,235.47L250.01,235.47L250.29,235.47L250.58,235.47L250.86,235.47L251.15,235.47L251.43,235.47L251.72,235.46L252,235.46L252.28,235.46L252.57,235.46L252.85,235.46L253.14,235.46L253.42,235.46L253.71,235.46L253.99,235.45L254.27,235.45L254.56,235.45L254.84,235.45L255.13,235.45L255.41,235.45L255.7,235.45L255.98,235.45L256.27,235.45L256.55,235.45L256.83,235.44L257.12,235.44L257.4,235.44L257.69,235.44L257.97,235.44L258.26,235.44L258.54,235.44L258.83,235.44L259.11,235.44L259.39,235.44L259.68,235.44L259.96,235.43L260.25,235.43L260.53,235.43L260.82,235.43L261.1,235.43L261.39,235.43L261.67,235.43L261.95,235.43L262.24,235.43L262.52,235.43L262.81,235.43L263.09,235.43L263.38,235.43L263.66,235.43L263.94,235.43L264.23,235.43L264.51,235.42L264.8,235.42L265.08,235.42L265.37,235.42L265.65,235.42L265.94,235.42L266.22,235.42L266.5,235.42L266.79,235.42L267.07,235.42L267.36,235.42L267.64,235.42L267.93,235.42L268.21,235.42L268.5,235.42L268.78,235.42L269.06,235.42L269.35,235.42L269.63,235.42L269.92,235.42L270.2,235.42L270.49,235.42L270.77,235.42L271.06,235.42L271.34,235.42L271.62,235.42L271.91,235.42L272.19,235.42L272.48,235.42L272.76,235.42L273.05,235.42L273.33,235.42L273.61,235.42L273.9,235.41L274.18,235.41L274.47,235.41L274.75,235.41" fill="none" stroke="#1a1aff" stroke-width="1.9" stroke-linejoin="round"/>
<path d="M75.95,398.59L76.23,398.59L76.52,398.59L76.8,398.59L77.09,398.59L77.37,398.59L77.66,398.59L77.94,398.59L78.23,398.59L78.51,398.59L78.79,398.59L79.08,398.59L79.36,398.59L79.65,398.59L79.93,398.59L80.22,398.59L80.5,398.59L80.78,398.59L81.07,398.59L81.35,398.59L81.64,398.59L81.92,398.59L82.21,398.59L82.49,398.59L82.78,398.59L83.06,398.59L83.34,398.59L83.63,398.59L83.91,398.59L84.2,398.59L84.48,398.59L84.77,398.59L85.05,398.58L85.34,398.58L85.62,398.58L85.9,398.58L86.19,398.58L86.47,398.58L86.76,398.58L87.04,398.58L87.33,398.58L87.61,398.58L87.9,398.58L88.18,398.58L88.46,398.58L88.75,398.58L89.03,398.58L89.32,398.58L89.6,398.58L89.89,398.58L90.17,398.58L90.45,398.58L90.74,398.58L91.02,398.58L91.31,398.58L91.59,398.58L91.88,398.58L92.16,398.58L92.45,398.58L92.73,398.58L93.01,398.58L93.3,398.58L93.58,398.58L93.87,398.58L94.15,398.58L94.44,398.57L94.72,398.57L95.01,398.57L95.29,398.57L95.57,398.57L95.86,398.57L96.14,398.57L96.43,398.57L96.71,398.57L97,398.57L97.28,398.57L97.57,398.57L97.85,398.57L98.13,398.57L98.42,398.57L98.7,398.57L98.99,398.56L99.27,398.56L99.56,398.56L99.84,398.56L100.12,398.56L100.41,398.56L100.69,398.56L100.98,398.56L101.26,398.56L101.55,398.56L101.83,398.56L102.12,398.55L102.4,398.55L102.68,398.55L102.97,398.55L103.25,398.55L103.54,398.55L103.82,398.55L104.11,398.55L104.39,398.55L104.68,398.55L104.96,398.54L105.24,398.54L105.53,398.54L105.81,398.54L106.1,398.54L106.38,398.54L106.67,398.54L106.95,398.54L107.24,398.53L107.52,398.53L107.8,398.53L108.09,398.53L108.37,398.53L108.66,398.53L108.94,398.53L109.23,398.52L109.51,398.52L109.79,398.52L110.08,398.52L110.36,398.52L110.65,398.52L110.93,398.51L111.22,398.51L111.5,398.51L111.79,398.51L112.07,398.51L112.35,398.51L112.64,398.5L112.92,398.5L113.21,398.5L113.49,398.5L113.78,398.5L114.06,398.5L114.35,398.49L114.63,398.49L114.91,398.49L115.2,398.49L115.48,398.49L115.77,398.48L116.05,398.48L116.34,398.48L116.62,398.48L116.91,398.47L117.19,398.47L117.47,398.47L117.76,398.47L118.04,398.47L118.33,398.46L118.61,398.46L118.9,398.46L119.18,398.46L119.46,398.45L119.75,398.45L120.03,398.45L120.32,398.45L120.6,398.44L120.89,398.44L121.17,398.44L121.46,398.44L121.74,398.43L122.02,398.43L122.31,398.43L122.59,398.43L122.88,398.42L123.16,398.42L123.45,398.42L123.73,398.42L124.02,398.41L124.3,398.41L124.58,398.41L124.87,398.4L125.15,398.4L125.44,398.39L125.72,398.38L126.01,398.36L126.29,398.34L126.57,398.32L126.86,398.3L127.14,398.28L127.43,398.25L127.71,398.22L128,398.18L128.28,398.15L128.57,398.11L128.85,398.07L129.13,398.03L129.42,397.99L129.7,397.95L129.99,397.9L130.27,397.86L130.56,397.81L130.84,397.76L131.13,397.71L131.41,397.66L131.69,397.61L131.98,397.56L132.26,397.51L132.55,397.45L132.83,397.4L133.12,397.35L133.4,397.3L133.69,397.24L133.97,397.18L134.25,397.12L134.54,397.06L134.82,396.99L135.11,396.92L135.39,396.85L135.68,396.77L135.96,396.7L136.24,396.61L136.53,396.53L136.81,396.45L137.1,396.36L137.38,396.27L137.67,396.17L137.95,396.07L138.24,395.97L138.52,395.87L138.8,395.77L139.09,395.66L139.37,395.55L139.66,395.44L139.94,395.32L140.23,395.21L140.51,395.09L140.8,394.96L141.08,394.84L141.36,394.71L141.65,394.58L141.93,394.45L142.22,394.31L142.5,394.17L142.79,394.03L143.07,393.89L143.36,393.73L143.64,393.57L143.92,393.4L144.21,393.22L144.49,393.03L144.78,392.83L145.06,392.62L145.35,392.41L145.63,392.18L145.91,391.95L146.2,391.71L146.48,391.46L146.77,391.21L147.05,390.94L147.34,390.67L147.62,390.39L147.91,390.1L148.19,389.8L148.47,389.48L148.76,389.13L149.04,388.76L149.33,388.37L149.61,387.96L149.9,387.53L150.18,387.08L150.47,386.61L150.75,386.13L151.03,385.63L151.32,385.12L151.6,384.59L151.89,384.06L152.17,383.51L152.46,382.95L152.74,382.38L153.03,381.79L153.31,381.18L153.59,380.55L153.88,379.89L154.16,379.2L154.45,378.47L154.73,377.7L155.02,376.89L155.3,376.03L155.58,375.12L155.87,374.15L156.15,373.05L156.44,371.71L156.72,370.19L157.01,368.56L157.29,366.87L157.58,365.19L157.86,363.58L158.14,362.09L158.43,360.78L158.71,359.51L159,358.28L159.28,357.13L159.57,356.14L159.85,355.36L160.14,354.7L160.42,354.09L160.7,353.53L160.99,353.02L161.27,352.55L161.56,352.11L161.84,351.69L162.13,351.3L162.41,350.92L162.7,350.54L162.98,350.18L163.26,349.82L163.55,349.48L163.83,349.15L164.12,348.83L164.4,348.52L164.69,348.21L164.97,347.92L165.25,347.63L165.54,347.35L165.82,347.08L166.11,346.81L166.39,346.54L166.68,346.28L166.96,346.03L167.25,345.77L167.53,345.52L167.81,345.27L168.1,345.02L168.38,344.77L168.67,344.53L168.95,344.28L169.24,344.04L169.52,343.8L169.81,343.57L170.09,343.35L170.37,343.13L170.66,342.92L170.94,342.71L171.23,342.51L171.51,342.31L171.8,342.11L172.08,341.91L172.36,341.72L172.65,341.53L172.93,341.34L173.22,341.15L173.5,340.97L173.79,340.78L174.07,340.59L174.36,340.4L174.64,340.21L174.92,340.02L175.21,339.83L175.49,339.63L175.78,339.44L176.06,339.24L176.35,339.03L176.63,338.82L176.92,338.61L177.2,338.39L177.48,338.17L177.77,337.94L178.05,337.7L178.34,337.46L178.62,337.21L178.91,336.96L179.19,336.69L179.48,336.42L179.76,336.14L180.04,335.85L180.33,335.55L180.61,335.24L180.9,334.92L181.18,334.59L181.47,334.24L181.75,333.89L182.03,333.53L182.32,333.15L182.6,332.77L182.89,332.38L183.17,331.97L183.46,331.56L183.74,331.13L184.03,330.7L184.31,330.26L184.59,329.81L184.88,329.35L185.16,328.88L185.45,328.4L185.73,327.91L186.02,327.41L186.3,326.9L186.59,326.38L186.87,325.83L187.15,325.25L187.44,324.64L187.72,324.02L188.01,323.37L188.29,322.71L188.58,322.02L188.86,321.33L189.15,320.62L189.43,319.9L189.71,319.17L190,318.43L190.28,317.7L190.57,316.95L190.85,316.21L191.14,315.47L191.42,314.73L191.7,314L191.99,313.27L192.27,312.52L192.56,311.77L192.84,311.01L193.13,310.22L193.41,309.42L193.7,308.58L193.98,307.72L194.26,306.82L194.55,305.88L194.83,304.9L195.12,303.88L195.4,302.76L195.69,301.53L195.97,300.21L196.26,298.82L196.54,297.37L196.82,295.89L197.11,294.37L197.39,292.86L197.68,291.35L197.96,289.87L198.25,288.44L198.53,287.05L198.82,285.65L199.1,284.25L199.38,282.85L199.67,281.45L199.95,280.07L200.24,278.69L200.52,277.33L200.81,275.99L201.09,274.67L201.37,273.33L201.66,271.98L201.94,270.64L202.23,269.32L202.51,268.02L202.8,266.77L203.08,265.58L203.37,264.45L203.65,263.41L203.93,262.4L204.22,261.43L204.5,260.48L204.79,259.56L205.07,258.67L205.36,257.81L205.64,256.99L205.93,256.21L206.21,255.47L206.49,254.76L206.78,254.1L207.06,253.48L207.35,252.86L207.63,252.27L207.92,251.69L208.2,251.12L208.49,250.58L208.77,250.06L209.05,249.55L209.34,249.07L209.62,248.61L209.91,248.17L210.19,247.76L210.48,247.37L210.76,247L211.04,246.67L211.33,246.34L211.61,246.03L211.9,245.72L212.18,245.43L212.47,245.14L212.75,244.85L213.04,244.58L213.32,244.32L213.6,244.06L213.89,243.81L214.17,243.57L214.46,243.34L214.74,243.11L215.03,242.89L215.31,242.69L215.6,242.49L215.88,242.29L216.16,242.11L216.45,241.93L216.73,241.77L217.02,241.61L217.3,241.45L217.59,241.31L217.87,241.17L218.15,241.03L218.44,240.89L218.72,240.76L219.01,240.63L219.29,240.5L219.58,240.37L219.86,240.25L220.15,240.12L220.43,240.01L220.71,239.89L221,239.78L221.28,239.66L221.57,239.56L221.85,239.45L222.14,239.34L222.42,239.24L222.71,239.14L222.99,239.05L223.27,238.95L223.56,238.86L223.84,238.77L224.13,238.68L224.41,238.59L224.7,238.51L224.98,238.43L225.27,238.35L225.55,238.27L225.83,238.2L226.12,238.12L226.4,238.05L226.69,237.98L226.97,237.91L227.26,237.85L227.54,237.79L227.82,237.73L228.11,237.67L228.39,237.61L228.68,237.55L228.96,237.49L229.25,237.43L229.53,237.38L229.82,237.32L230.1,237.26L230.38,237.2L230.67,237.15L230.95,237.09L231.24,237.04L231.52,236.99L231.81,236.93L232.09,236.88L232.38,236.83L232.66,236.78L232.94,236.74L233.23,236.69L233.51,236.64L233.8,236.6L234.08,236.56L234.37,236.52L234.65,236.48L234.94,236.44L235.22,236.4L235.5,236.37L235.79,236.34L236.07,236.31L236.36,236.28L236.64,236.25L236.93,236.23L237.21,236.21L237.49,236.19L237.78,236.17L238.06,236.16L238.35,236.15L238.63,236.14L238.92,236.13L239.2,236.12L239.49,236.11L239.77,236.11L240.05,236.1L240.34,236.09L240.62,236.09L240.91,236.08L241.19,236.07L241.48,236.07L241.76,236.06L242.05,236.05L242.33,236.05L242.61,236.04L242.9,236.04L243.18,236.03L243.47,236.03L243.75,236.02L244.04,236.02L244.32,236.01L244.61,236.01L244.89,236L245.17,236L245.46,235.99L245.74,235.99L246.03,235.98L246.31,235.98L246.6,235.98L246.88,235.97L247.16,235.97L247.45,235.97L247.73,235.96L248.02,235.96L248.3,235.95L248.59,235.95L248.87,235.95L249.16,235.94L249.44,235.94L249.72,235.94L250.01,235.94L250.29,235.93L250.58,235.93L250.86,235.93L251.15,235.92L251.43,235.92L251.72,235.92L252,235.92L252.28,235.91L252.57,235.91L252.85,235.91L253.14,235.91L253.42,235.9L253.71,235.9L253.99,235.9L254.27,235.9L254.56,235.89L254.84,235.89L255.13,235.89L255.41,235.88L255.7,235.88L255.98,235.88L256.27,235.88L256.55,235.87L256.83,235.87L257.12,235.87L257.4,235.87L257.69,235.86L257.97,235.86L258.26,235.86L258.54,235.86L258.83,235.85L259.11,235.85L259.39,235.85L259.68,235.84L259.96,235.84L260.25,235.84L260.53,235.84L260.82,235.83L261.1,235.83L261.39,235.83L261.67,235.82L261.95,235.82L262.24,235.82L262.52,235.82L262.81,235.81L263.09,235.81L263.38,235.81L263.66,235.8L263.94,235.8L264.23,235.8L264.51,235.8L264.8,235.79L265.08,235.79L265.37,235.79L265.65,235.78L265.94,235.78L266.22,235.78L266.5,235.78L266.79,235.77L267.07,235.77L267.36,235.77L267.64,235.77L267.93,235.76L268.21,235.76L268.5,235.76L268.78,235.76L269.06,235.75L269.35,235.75L269.63,235.75L269.92,235.75L270.2,235.74L270.49,235.74L270.77,235.74L271.06,235.74L271.34,235.73L271.62,235.73L271.91,235.73L272.19,235.73L272.48,235.73L272.76,235.72L273.05,235.72L273.33,235.72L273.61,235.72L273.9,235.72L274.18,235.71L274.47,235.71L274.75,235.71" fill="none" stroke="#1a1aff" stroke-width="1.9" stroke-linejoin="round"/>
<rect x="61" y="217.3" width="236.4" height="199.1" fill="none" stroke="#000" stroke-width="2"/>
<line x1="80.7" y1="416.4" x2="80.7" y2="411.4" stroke="#000" stroke-width="2"/>
<text x="80.7" y="433.6" font-family='"Liberation Sans", sans-serif' font-size="15.3" fill="#000" font-weight="bold" font-style="normal" text-anchor="middle" >-100</text>
<line x1="130.05" y1="416.4" x2="130.05" y2="411.4" stroke="#000" stroke-width="2"/>
<text x="130.05" y="433.6" font-family='"Liberation Sans", sans-serif' font-size="15.3" fill="#000" font-weight="bold" font-style="normal" text-anchor="middle" >-50</text>
<line x1="179.4" y1="416.4" x2="179.4" y2="411.4" stroke="#000" stroke-width="2"/>
<text x="179.4" y="433.6" font-family='"Liberation Sans", sans-serif' font-size="15.3" fill="#000" font-weight="bold" font-style="normal" text-anchor="middle" >0</text>
<line x1="228.75" y1="416.4" x2="228.75" y2="411.4" stroke="#000" stroke-width="2"/>
<text x="228.75" y="433.6" font-family='"Liberation Sans", sans-serif' font-size="15.3" fill="#000" font-weight="bold" font-style="normal" text-anchor="middle" >50</text>
<line x1="278.1" y1="416.4" x2="278.1" y2="411.4" stroke="#000" stroke-width="2"/>
<text x="278.1" y="433.6" font-family='"Liberation Sans", sans-serif' font-size="15.3" fill="#000" font-weight="bold" font-style="normal" text-anchor="middle" >100</text>
<line x1="105.38" y1="416.4" x2="105.38" y2="413.4" stroke="#000" stroke-width="2"/>
<line x1="154.72" y1="416.4" x2="154.72" y2="413.4" stroke="#000" stroke-width="2"/>
<line x1="204.08" y1="416.4" x2="204.08" y2="413.4" stroke="#000" stroke-width="2"/>
<line x1="253.43" y1="416.4" x2="253.43" y2="413.4" stroke="#000" stroke-width="2"/>
<line x1="61" y1="407.55" x2="65" y2="407.55" stroke="#000" stroke-width="2"/>
<text x="55.7" y="412.65" font-family='"Liberation Sans", sans-serif' font-size="15.3" fill="#000" font-weight="bold" font-style="normal" text-anchor="end" >-100</text>
<line x1="61" y1="362.27" x2="65" y2="362.27" stroke="#000" stroke-width="2"/>
<text x="55.7" y="367.38" font-family='"Liberation Sans", sans-serif' font-size="15.3" fill="#000" font-weight="bold" font-style="normal" text-anchor="end" >-50</text>
<line x1="61" y1="317" x2="65" y2="317" stroke="#000" stroke-width="2"/>
<text x="55.7" y="322.1" font-family='"Liberation Sans", sans-serif' font-size="15.3" fill="#000" font-weight="bold" font-style="normal" text-anchor="end" >0</text>
<line x1="61" y1="271.73" x2="65" y2="271.73" stroke="#000" stroke-width="2"/>
<text x="55.7" y="276.83" font-family='"Liberation Sans", sans-serif' font-size="15.3" fill="#000" font-weight="bold" font-style="normal" text-anchor="end" >50</text>
<line x1="61" y1="226.45" x2="65" y2="226.45" stroke="#000" stroke-width="2"/>
<text x="55.7" y="231.55" font-family='"Liberation Sans", sans-serif' font-size="15.3" fill="#000" font-weight="bold" font-style="normal" text-anchor="end" >100</text>
<line x1="61" y1="384.91" x2="63.5" y2="384.91" stroke="#000" stroke-width="2"/>
<line x1="61" y1="339.64" x2="63.5" y2="339.64" stroke="#000" stroke-width="2"/>
<line x1="61" y1="294.36" x2="63.5" y2="294.36" stroke="#000" stroke-width="2"/>
<line x1="61" y1="249.09" x2="63.5" y2="249.09" stroke="#000" stroke-width="2"/>
<g id="bt1" transform="translate(89.244,248.860) scale(0.9508,0.9092)"><text x="0" y="0" font-family='"Liberation Sans", sans-serif' font-size="15.5" fill="#2a2af5" font-weight="normal" font-style="normal" text-anchor="start" >Pt(3)/NiO(1)/YIG</text></g>
<g id="bt2" transform="translate(217.168,285.589) scale(0.9372,1.0471)"><text x="0" y="0" font-family='"Liberation Sans", sans-serif' font-size="15.5" fill="#ff2a2a" font-weight="normal" font-style="normal" text-anchor="start" >Pt(3)/YIG</text></g>
<g id="bt3" transform="translate(160.485,384.563) scale(0.9530,1.0238)"><text x="0" y="0" font-family='"Liberation Sans", sans-serif' font-size="15.5" fill="#1a1a1a" font-weight="normal" font-style="normal" text-anchor="start" >Pt(3)/NiO(1)/SiO<tspan font-size="10" dy="3">x</tspan><tspan dy="-3">/Si</tspan></text></g>
<line x1="235.4" y1="363" x2="235.4" y2="333" stroke="#000" stroke-width="1"/><polygon points="235.4,328 232.7,335 238.1,335" fill="#000"/>
<g id="bV" transform="translate(15.850,314.974) scale(1.0709,1.1325)"><text transform="rotate(-90)" x="0" y="0" font-family='"Liberation Sans", sans-serif' font-size="14.5" fill="#000" font-weight="bold" font-style="normal" text-anchor="middle"><tspan font-style="italic">V</tspan> (<tspan font-family='"Liberation Serif", serif' font-weight="normal">&#956;</tspan>V)</text></g>
<g id="bH" transform="translate(149.415,453.405) scale(1.0669,1.1870)"><text x="0" y="0" font-family='"Liberation Sans", sans-serif' font-size="13.5" fill="#000" font-weight="bold" font-style="normal" text-anchor="start" ><tspan font-style="italic">&#956;</tspan><tspan font-size="9" dy="3.5">0</tspan><tspan font-style="italic" dy="-3.5">H</tspan> (mT)</text></g>
<path d="M74.98,543.19L75.26,543.19L75.55,543.19L75.83,543.19L76.12,543.19L76.4,543.19L76.69,543.19L76.97,543.19L77.26,543.19L77.54,543.19L77.83,543.19L78.11,543.19L78.4,543.19L78.68,543.19L78.97,543.19L79.25,543.19L79.54,543.19L79.82,543.19L80.11,543.19L80.39,543.2L80.68,543.2L80.97,543.2L81.25,543.2L81.54,543.2L81.82,543.2L82.11,543.2L82.39,543.2L82.68,543.2L82.96,543.2L83.25,543.2L83.53,543.2L83.82,543.2L84.1,543.21L84.39,543.21L84.67,543.21L84.96,543.21L85.24,543.21L85.53,543.21L85.81,543.21L86.1,543.21L86.38,543.21L86.67,543.22L86.96,543.22L87.24,543.22L87.53,543.22L87.81,543.22L88.1,543.22L88.38,543.22L88.67,543.22L88.95,543.23L89.24,543.23L89.52,543.23L89.81,543.23L90.09,543.23L90.38,543.23L90.66,543.24L90.95,543.24L91.23,543.24L91.52,543.24L91.8,543.24L92.09,543.25L92.38,543.25L92.66,543.25L92.95,543.25L93.23,543.25L93.52,543.25L93.8,543.26L94.09,543.26L94.37,543.26L94.66,543.26L94.94,543.27L95.23,543.27L95.51,543.27L95.8,543.27L96.08,543.27L96.37,543.28L96.65,543.28L96.94,543.28L97.22,543.28L97.51,543.29L97.79,543.29L98.08,543.29L98.37,543.29L98.65,543.3L98.94,543.3L99.22,543.3L99.51,543.3L99.79,543.31L100.08,543.31L100.36,543.31L100.65,543.32L100.93,543.32L101.22,543.32L101.5,543.32L101.79,543.33L102.07,543.33L102.36,543.33L102.64,543.34L102.93,543.34L103.21,543.34L103.5,543.35L103.78,543.35L104.07,543.35L104.36,543.35L104.64,543.36L104.93,543.36L105.21,543.36L105.5,543.37L105.78,543.37L106.07,543.37L106.35,543.38L106.64,543.38L106.92,543.39L107.21,543.39L107.49,543.39L107.78,543.4L108.06,543.4L108.35,543.4L108.63,543.41L108.92,543.41L109.2,543.41L109.49,543.42L109.78,543.42L110.06,543.43L110.35,543.43L110.63,543.43L110.92,543.44L111.2,543.44L111.49,543.44L111.77,543.45L112.06,543.45L112.34,543.46L112.63,543.46L112.91,543.46L113.2,543.47L113.48,543.47L113.77,543.48L114.05,543.48L114.34,543.49L114.62,543.49L114.91,543.49L115.19,543.5L115.48,543.5L115.77,543.51L116.05,543.51L116.34,543.52L116.62,543.52L116.91,543.52L117.19,543.53L117.48,543.53L117.76,543.54L118.05,543.54L118.33,543.55L118.62,543.55L118.9,543.56L119.19,543.56L119.47,543.57L119.76,543.57L120.04,543.58L120.33,543.58L120.61,543.59L120.9,543.59L121.18,543.6L121.47,543.6L121.76,543.61L122.04,543.61L122.33,543.62L122.61,543.62L122.9,543.63L123.18,543.63L123.47,543.64L123.75,543.64L124.04,543.65L124.32,543.65L124.61,543.66L124.89,543.66L125.18,543.67L125.46,543.67L125.75,543.68L126.03,543.68L126.32,543.69L126.6,543.69L126.89,543.7L127.18,543.7L127.46,543.71L127.75,543.72L128.03,543.72L128.32,543.73L128.6,543.73L128.89,543.74L129.17,543.74L129.46,543.75L129.74,543.75L130.03,543.76L130.31,543.77L130.6,543.77L130.88,543.78L131.17,543.78L131.45,543.79L131.74,543.8L132.02,543.8L132.31,543.81L132.59,543.82L132.88,543.83L133.17,543.84L133.45,543.84L133.74,543.85L134.02,543.86L134.31,543.87L134.59,543.88L134.88,543.89L135.16,543.9L135.45,543.91L135.73,543.92L136.02,543.93L136.3,543.95L136.59,543.96L136.87,543.97L137.16,543.99L137.44,544L137.73,544.01L138.01,544.03L138.3,544.04L138.59,544.06L138.87,544.08L139.16,544.09L139.44,544.11L139.73,544.13L140.01,544.15L140.3,544.17L140.58,544.19L140.87,544.21L141.15,544.23L141.44,544.25L141.72,544.27L142.01,544.3L142.29,544.32L142.58,544.35L142.86,544.37L143.15,544.4L143.43,544.43L143.72,544.45L144,544.48L144.29,544.52L144.58,544.57L144.86,544.63L145.15,544.7L145.43,544.78L145.72,544.87L146,544.97L146.29,545.07L146.57,545.18L146.86,545.29L147.14,545.41L147.43,545.53L147.71,545.66L148,545.79L148.28,545.92L148.57,546.05L148.85,546.18L149.14,546.31L149.42,546.44L149.71,546.59L149.99,546.74L150.28,546.9L150.57,547.07L150.85,547.24L151.14,547.42L151.42,547.61L151.71,547.8L151.99,547.99L152.28,548.19L152.56,548.39L152.85,548.6L153.13,548.8L153.42,549.01L153.7,549.22L153.99,549.42L154.27,549.63L154.56,549.83L154.84,550.04L155.13,550.27L155.41,550.5L155.7,550.73L155.99,550.97L156.27,551.21L156.56,551.44L156.84,551.67L157.13,551.89L157.41,552.1L157.7,552.29L157.98,552.47L158.27,552.64L158.55,552.82L158.84,552.99L159.12,553.17L159.41,553.34L159.69,553.5L159.98,553.65L160.26,553.78L160.55,553.91L160.83,554.01L161.12,554.09L161.4,554.15L161.69,554.19L161.98,554.22L162.26,554.26L162.55,554.29L162.83,554.32L163.12,554.35L163.4,554.38L163.69,554.4L163.97,554.42L164.26,554.45L164.54,554.47L164.83,554.48L165.11,554.5L165.4,554.52L165.68,554.53L165.97,554.55L166.25,554.56L166.54,554.57L166.82,554.59L167.11,554.6L167.39,554.61L167.68,554.62L167.97,554.63L168.25,554.64L168.54,554.65L168.82,554.67L169.11,554.68L169.39,554.69L169.68,554.7L169.96,554.71L170.25,554.73L170.53,554.74L170.82,554.76L171.1,554.78L171.39,554.79L171.67,554.81L171.96,554.83L172.24,554.85L172.53,554.88L172.81,554.9L173.1,554.93L173.39,554.96L173.67,554.99L173.96,555.02L174.24,555.06L174.53,555.11L174.81,555.16L175.1,555.21L175.38,555.27L175.67,555.33L175.95,555.4L176.24,555.47L176.52,555.55L176.81,555.63L177.09,555.71L177.38,555.8L177.66,555.89L177.95,555.98L178.23,556.08L178.52,556.18L178.8,556.28L179.09,556.38L179.38,556.48L179.66,556.59L179.95,556.69L180.23,556.8L180.52,556.91L180.8,557.02L181.09,557.13L181.37,557.24L181.66,557.35L181.94,557.46L182.23,557.57L182.51,557.68L182.8,557.79L183.08,557.89L183.37,558L183.65,558.12L183.94,558.23L184.22,558.34L184.51,558.46L184.8,558.57L185.08,558.69L185.37,558.81L185.65,558.94L185.94,559.06L186.22,559.19L186.51,559.32L186.79,559.45L187.08,559.59L187.36,559.72L187.65,559.86L187.93,560.01L188.22,560.16L188.5,560.31L188.79,560.46L189.07,560.62L189.36,560.78L189.64,560.95L189.93,561.12L190.21,561.29L190.5,561.47L190.79,561.65L191.07,561.84L191.36,562.03L191.64,562.24L191.93,562.47L192.21,562.72L192.5,562.99L192.78,563.27L193.07,563.56L193.35,563.86L193.64,564.17L193.92,564.49L194.21,564.81L194.49,565.13L194.78,565.45L195.06,565.76L195.35,566.07L195.63,566.37L195.92,566.66L196.2,566.94L196.49,567.2L196.78,567.45L197.06,567.69L197.35,567.93L197.63,568.17L197.92,568.41L198.2,568.64L198.49,568.87L198.77,569.09L199.06,569.32L199.34,569.54L199.63,569.76L199.91,569.97L200.2,570.19L200.48,570.4L200.77,570.62L201.05,570.83L201.34,571.04L201.62,571.25L201.91,571.45L202.2,571.66L202.48,571.87L202.77,572.08L203.05,572.28L203.34,572.49L203.62,572.7L203.91,572.91L204.19,573.13L204.48,573.35L204.76,573.57L205.05,573.79L205.33,574.02L205.62,574.25L205.9,574.48L206.19,574.71L206.47,574.94L206.76,575.17L207.04,575.4L207.33,575.62L207.61,575.85L207.9,576.07L208.19,576.28L208.47,576.5L208.76,576.7L209.04,576.91L209.33,577.1L209.61,577.29L209.9,577.48L210.18,577.65L210.47,577.82L210.75,577.98L211.04,578.13L211.32,578.27L211.61,578.4L211.89,578.52L212.18,578.62L212.46,578.72L212.75,578.82L213.03,578.91L213.32,579L213.6,579.09L213.89,579.18L214.18,579.27L214.46,579.36L214.75,579.44L215.03,579.53L215.32,579.61L215.6,579.69L215.89,579.77L216.17,579.84L216.46,579.92L216.74,579.99L217.03,580.06L217.31,580.13L217.6,580.2L217.88,580.27L218.17,580.33L218.45,580.4L218.74,580.46L219.02,580.52L219.31,580.58L219.6,580.64L219.88,580.69L220.17,580.74L220.45,580.8L220.74,580.85L221.02,580.89L221.31,580.94L221.59,580.99L221.88,581.03L222.16,581.07L222.45,581.11L222.73,581.15L223.02,581.18L223.3,581.22L223.59,581.25L223.87,581.28L224.16,581.31L224.44,581.34L224.73,581.36L225.01,581.39L225.3,581.41L225.59,581.44L225.87,581.46L226.16,581.48L226.44,581.51L226.73,581.53L227.01,581.55L227.3,581.57L227.58,581.6L227.87,581.62L228.15,581.64L228.44,581.66L228.72,581.68L229.01,581.7L229.29,581.72L229.58,581.74L229.86,581.76L230.15,581.78L230.43,581.79L230.72,581.81L231,581.83L231.29,581.84L231.58,581.86L231.86,581.88L232.15,581.89L232.43,581.91L232.72,581.92L233,581.93L233.29,581.95L233.57,581.96L233.86,581.97L234.14,581.98L234.43,581.99L234.71,582L235,582.01L235.28,582.02L235.57,582.03L235.85,582.03L236.14,582.04L236.42,582.05L236.71,582.05L237,582.06L237.28,582.06L237.57,582.06L237.85,582.07L238.14,582.07L238.42,582.07L238.71,582.07L238.99,582.08L239.28,582.08L239.56,582.08L239.85,582.08L240.13,582.08L240.42,582.09L240.7,582.09L240.99,582.09L241.27,582.09L241.56,582.09L241.84,582.1L242.13,582.1L242.41,582.1L242.7,582.1L242.99,582.1L243.27,582.11L243.56,582.11L243.84,582.11L244.13,582.11L244.41,582.11L244.7,582.12L244.98,582.12L245.27,582.12L245.55,582.12L245.84,582.12L246.12,582.12L246.41,582.13L246.69,582.13L246.98,582.13L247.26,582.13L247.55,582.13L247.83,582.13L248.12,582.14L248.41,582.14L248.69,582.14L248.98,582.14L249.26,582.14L249.55,582.14L249.83,582.14L250.12,582.15L250.4,582.15L250.69,582.15L250.97,582.15L251.26,582.15L251.54,582.15L251.83,582.15L252.11,582.16L252.4,582.16L252.68,582.16L252.97,582.16L253.25,582.16L253.54,582.16L253.82,582.16L254.11,582.16L254.4,582.17L254.68,582.17L254.97,582.17L255.25,582.17L255.54,582.17L255.82,582.17L256.11,582.17L256.39,582.17L256.68,582.17L256.96,582.18L257.25,582.18L257.53,582.18L257.82,582.18L258.1,582.18L258.39,582.18L258.67,582.18L258.96,582.18L259.24,582.18L259.53,582.18L259.81,582.18L260.1,582.19L260.39,582.19L260.67,582.19L260.96,582.19L261.24,582.19L261.53,582.19L261.81,582.19L262.1,582.19L262.38,582.19L262.67,582.19L262.95,582.19L263.24,582.19L263.52,582.19L263.81,582.19L264.09,582.2L264.38,582.2L264.66,582.2L264.95,582.2L265.23,582.2L265.52,582.2L265.81,582.2L266.09,582.2L266.38,582.2L266.66,582.2L266.95,582.2L267.23,582.2L267.52,582.2L267.8,582.2L268.09,582.2L268.37,582.2L268.66,582.2L268.94,582.2L269.23,582.2L269.51,582.2L269.8,582.2L270.08,582.21L270.37,582.21L270.65,582.21L270.94,582.21L271.22,582.21L271.51,582.21L271.8,582.21L272.08,582.21L272.37,582.21L272.65,582.21L272.94,582.21L273.22,582.21L273.51,582.21L273.79,582.21L274.08,582.21L274.36,582.21" fill="none" stroke="#ff2020" stroke-width="1.9" stroke-linejoin="round"/>
<path d="M74.98,543.19L75.26,543.19L75.55,543.19L75.83,543.19L76.12,543.19L76.4,543.19L76.69,543.19L76.97,543.19L77.26,543.19L77.54,543.19L77.83,543.19L78.11,543.19L78.4,543.19L78.68,543.19L78.97,543.19L79.25,543.19L79.54,543.19L79.82,543.19L80.11,543.19L80.39,543.19L80.68,543.19L80.97,543.19L81.25,543.19L81.54,543.19L81.82,543.19L82.11,543.19L82.39,543.19L82.68,543.19L82.96,543.19L83.25,543.19L83.53,543.19L83.82,543.19L84.1,543.19L84.39,543.19L84.67,543.19L84.96,543.19L85.24,543.19L85.53,543.19L85.81,543.19L86.1,543.19L86.38,543.19L86.67,543.19L86.96,543.19L87.24,543.19L87.53,543.19L87.81,543.19L88.1,543.19L88.38,543.19L88.67,543.19L88.95,543.2L89.24,543.2L89.52,543.2L89.81,543.2L90.09,543.2L90.38,543.2L90.66,543.2L90.95,543.2L91.23,543.2L91.52,543.2L91.8,543.2L92.09,543.2L92.38,543.2L92.66,543.2L92.95,543.2L93.23,543.2L93.52,543.2L93.8,543.2L94.09,543.2L94.37,543.2L94.66,543.2L94.94,543.21L95.23,543.21L95.51,543.21L95.8,543.21L96.08,543.21L96.37,543.21L96.65,543.21L96.94,543.21L97.22,543.21L97.51,543.21L97.79,543.21L98.08,543.21L98.37,543.21L98.65,543.21L98.94,543.22L99.22,543.22L99.51,543.22L99.79,543.22L100.08,543.22L100.36,543.22L100.65,543.22L100.93,543.22L101.22,543.22L101.5,543.22L101.79,543.23L102.07,543.23L102.36,543.23L102.64,543.23L102.93,543.23L103.21,543.23L103.5,543.23L103.78,543.23L104.07,543.23L104.36,543.24L104.64,543.24L104.93,543.24L105.21,543.24L105.5,543.24L105.78,543.24L106.07,543.24L106.35,543.24L106.64,543.24L106.92,543.25L107.21,543.25L107.49,543.25L107.78,543.25L108.06,543.25L108.35,543.25L108.63,543.25L108.92,543.26L109.2,543.26L109.49,543.26L109.78,543.26L110.06,543.26L110.35,543.26L110.63,543.27L110.92,543.27L111.2,543.27L111.49,543.27L111.77,543.27L112.06,543.27L112.34,543.27L112.63,543.28L112.91,543.28L113.2,543.28L113.48,543.28L113.77,543.28L114.05,543.29L114.34,543.29L114.62,543.29L114.91,543.29L115.19,543.29L115.48,543.29L115.77,543.3L116.05,543.3L116.34,543.3L116.62,543.3L116.91,543.3L117.19,543.31L117.48,543.31L117.76,543.31L118.05,543.31L118.33,543.31L118.62,543.32L118.9,543.32L119.19,543.32L119.47,543.32L119.76,543.33L120.04,543.33L120.33,543.33L120.61,543.33L120.9,543.33L121.18,543.34L121.47,543.34L121.76,543.35L122.04,543.35L122.33,543.36L122.61,543.36L122.9,543.37L123.18,543.38L123.47,543.39L123.75,543.39L124.04,543.4L124.32,543.41L124.61,543.42L124.89,543.44L125.18,543.45L125.46,543.46L125.75,543.47L126.03,543.49L126.32,543.5L126.6,543.52L126.89,543.53L127.18,543.55L127.46,543.56L127.75,543.58L128.03,543.6L128.32,543.62L128.6,543.63L128.89,543.65L129.17,543.67L129.46,543.69L129.74,543.71L130.03,543.73L130.31,543.75L130.6,543.77L130.88,543.79L131.17,543.82L131.45,543.84L131.74,543.86L132.02,543.88L132.31,543.91L132.59,543.93L132.88,543.95L133.17,543.98L133.45,544L133.74,544.03L134.02,544.05L134.31,544.08L134.59,544.1L134.88,544.13L135.16,544.17L135.45,544.2L135.73,544.23L136.02,544.27L136.3,544.31L136.59,544.35L136.87,544.39L137.16,544.44L137.44,544.48L137.73,544.53L138.01,544.58L138.3,544.63L138.59,544.68L138.87,544.74L139.16,544.79L139.44,544.85L139.73,544.91L140.01,544.97L140.3,545.04L140.58,545.1L140.87,545.17L141.15,545.23L141.44,545.3L141.72,545.37L142.01,545.45L142.29,545.52L142.58,545.6L142.86,545.68L143.15,545.75L143.43,545.84L143.72,545.92L144,546L144.29,546.09L144.58,546.18L144.86,546.26L145.15,546.35L145.43,546.45L145.72,546.54L146,546.63L146.29,546.73L146.57,546.83L146.86,546.95L147.14,547.07L147.43,547.2L147.71,547.35L148,547.5L148.28,547.67L148.57,547.84L148.85,548.02L149.14,548.21L149.42,548.4L149.71,548.6L149.99,548.81L150.28,549.02L150.57,549.23L150.85,549.45L151.14,549.67L151.42,549.9L151.71,550.12L151.99,550.35L152.28,550.58L152.56,550.81L152.85,551.04L153.13,551.27L153.42,551.5L153.7,551.73L153.99,551.95L154.27,552.17L154.56,552.39L154.84,552.6L155.13,552.81L155.41,553.02L155.7,553.22L155.99,553.43L156.27,553.64L156.56,553.85L156.84,554.06L157.13,554.26L157.41,554.47L157.7,554.68L157.98,554.9L158.27,555.11L158.55,555.32L158.84,555.54L159.12,555.76L159.41,555.98L159.69,556.2L159.98,556.43L160.26,556.65L160.55,556.88L160.83,557.12L161.12,557.35L161.4,557.59L161.69,557.84L161.98,558.08L162.26,558.34L162.55,558.61L162.83,558.89L163.12,559.19L163.4,559.49L163.69,559.81L163.97,560.12L164.26,560.44L164.54,560.76L164.83,561.08L165.11,561.39L165.4,561.7L165.68,561.99L165.97,562.28L166.25,562.55L166.54,562.81L166.82,563.05L167.11,563.27L167.39,563.47L167.68,563.66L167.97,563.85L168.25,564.03L168.54,564.2L168.82,564.37L169.11,564.54L169.39,564.71L169.68,564.87L169.96,565.02L170.25,565.17L170.53,565.32L170.82,565.47L171.1,565.61L171.39,565.75L171.67,565.89L171.96,566.02L172.24,566.15L172.53,566.28L172.81,566.4L173.1,566.53L173.39,566.65L173.67,566.77L173.96,566.89L174.24,567L174.53,567.12L174.81,567.23L175.1,567.34L175.38,567.45L175.67,567.56L175.95,567.67L176.24,567.78L176.52,567.89L176.81,568L177.09,568.11L177.38,568.22L177.66,568.33L177.95,568.44L178.23,568.55L178.52,568.66L178.8,568.76L179.09,568.87L179.38,568.97L179.66,569.08L179.95,569.18L180.23,569.28L180.52,569.37L180.8,569.47L181.09,569.56L181.37,569.65L181.66,569.73L181.94,569.81L182.23,569.89L182.51,569.97L182.8,570.04L183.08,570.1L183.37,570.16L183.65,570.22L183.94,570.27L184.22,570.32L184.51,570.36L184.8,570.39L185.08,570.43L185.37,570.46L185.65,570.48L185.94,570.51L186.22,570.53L186.51,570.56L186.79,570.58L187.08,570.6L187.36,570.62L187.65,570.63L187.93,570.65L188.22,570.66L188.5,570.68L188.79,570.69L189.07,570.71L189.36,570.72L189.64,570.73L189.93,570.74L190.21,570.75L190.5,570.76L190.79,570.77L191.07,570.79L191.36,570.8L191.64,570.81L191.93,570.82L192.21,570.83L192.5,570.85L192.78,570.86L193.07,570.87L193.35,570.89L193.64,570.91L193.92,570.93L194.21,570.94L194.49,570.97L194.78,570.99L195.06,571.01L195.35,571.04L195.63,571.06L195.92,571.09L196.2,571.13L196.49,571.16L196.78,571.19L197.06,571.23L197.35,571.28L197.63,571.35L197.92,571.44L198.2,571.56L198.49,571.69L198.77,571.83L199.06,571.99L199.34,572.15L199.63,572.32L199.91,572.5L200.2,572.68L200.48,572.85L200.77,573.02L201.05,573.21L201.34,573.41L201.62,573.63L201.91,573.85L202.2,574.08L202.48,574.32L202.77,574.55L203.05,574.79L203.34,575.03L203.62,575.25L203.91,575.47L204.19,575.68L204.48,575.88L204.76,576.09L205.05,576.29L205.33,576.5L205.62,576.7L205.9,576.91L206.19,577.11L206.47,577.31L206.76,577.51L207.04,577.7L207.33,577.89L207.61,578.07L207.9,578.25L208.19,578.42L208.47,578.59L208.76,578.74L209.04,578.89L209.33,579.03L209.61,579.16L209.9,579.29L210.18,579.42L210.47,579.55L210.75,579.68L211.04,579.81L211.32,579.93L211.61,580.05L211.89,580.17L212.18,580.28L212.46,580.39L212.75,580.49L213.03,580.58L213.32,580.66L213.6,580.74L213.89,580.8L214.18,580.86L214.46,580.9L214.75,580.93L215.03,580.96L215.32,580.99L215.6,581.02L215.89,581.04L216.17,581.07L216.46,581.09L216.74,581.11L217.03,581.14L217.31,581.16L217.6,581.18L217.88,581.2L218.17,581.22L218.45,581.24L218.74,581.26L219.02,581.28L219.31,581.3L219.6,581.32L219.88,581.33L220.17,581.35L220.45,581.36L220.74,581.38L221.02,581.39L221.31,581.41L221.59,581.42L221.88,581.44L222.16,581.45L222.45,581.46L222.73,581.47L223.02,581.48L223.3,581.49L223.59,581.51L223.87,581.52L224.16,581.53L224.44,581.53L224.73,581.54L225.01,581.55L225.3,581.56L225.59,581.57L225.87,581.58L226.16,581.58L226.44,581.59L226.73,581.6L227.01,581.61L227.3,581.61L227.58,581.62L227.87,581.63L228.15,581.63L228.44,581.64L228.72,581.64L229.01,581.65L229.29,581.65L229.58,581.66L229.86,581.67L230.15,581.67L230.43,581.68L230.72,581.68L231,581.69L231.29,581.69L231.58,581.7L231.86,581.7L232.15,581.71L232.43,581.72L232.72,581.72L233,581.73L233.29,581.73L233.57,581.74L233.86,581.74L234.14,581.75L234.43,581.75L234.71,581.76L235,581.76L235.28,581.77L235.57,581.77L235.85,581.78L236.14,581.78L236.42,581.79L236.71,581.79L237,581.8L237.28,581.8L237.57,581.81L237.85,581.81L238.14,581.82L238.42,581.82L238.71,581.83L238.99,581.83L239.28,581.84L239.56,581.84L239.85,581.85L240.13,581.85L240.42,581.85L240.7,581.86L240.99,581.86L241.27,581.87L241.56,581.87L241.84,581.88L242.13,581.88L242.41,581.89L242.7,581.89L242.99,581.9L243.27,581.9L243.56,581.9L243.84,581.91L244.13,581.91L244.41,581.92L244.7,581.92L244.98,581.93L245.27,581.93L245.55,581.93L245.84,581.94L246.12,581.94L246.41,581.95L246.69,581.95L246.98,581.95L247.26,581.96L247.55,581.96L247.83,581.97L248.12,581.97L248.41,581.97L248.69,581.98L248.98,581.98L249.26,581.98L249.55,581.99L249.83,581.99L250.12,582L250.4,582L250.69,582L250.97,582.01L251.26,582.01L251.54,582.01L251.83,582.02L252.11,582.02L252.4,582.02L252.68,582.03L252.97,582.03L253.25,582.03L253.54,582.04L253.82,582.04L254.11,582.04L254.4,582.05L254.68,582.05L254.97,582.05L255.25,582.06L255.54,582.06L255.82,582.06L256.11,582.07L256.39,582.07L256.68,582.07L256.96,582.07L257.25,582.08L257.53,582.08L257.82,582.08L258.1,582.09L258.39,582.09L258.67,582.09L258.96,582.09L259.24,582.1L259.53,582.1L259.81,582.1L260.1,582.1L260.39,582.11L260.67,582.11L260.96,582.11L261.24,582.11L261.53,582.12L261.81,582.12L262.1,582.12L262.38,582.12L262.67,582.13L262.95,582.13L263.24,582.13L263.52,582.13L263.81,582.14L264.09,582.14L264.38,582.14L264.66,582.14L264.95,582.14L265.23,582.15L265.52,582.15L265.81,582.15L266.09,582.15L266.38,582.15L266.66,582.16L266.95,582.16L267.23,582.16L267.52,582.16L267.8,582.16L268.09,582.16L268.37,582.17L268.66,582.17L268.94,582.17L269.23,582.17L269.51,582.17L269.8,582.17L270.08,582.18L270.37,582.18L270.65,582.18L270.94,582.18L271.22,582.18L271.51,582.18L271.8,582.18L272.08,582.19L272.37,582.19L272.65,582.19L272.94,582.19L273.22,582.19L273.51,582.19L273.79,582.19L274.08,582.19L274.36,582.19" fill="none" stroke="#ff2020" stroke-width="1.9" stroke-linejoin="round"/>
<path d="M75.95,479.25L76.23,479.25L76.52,479.25L76.8,479.25L77.09,479.25L77.37,479.25L77.66,479.25L77.94,479.25L78.23,479.25L78.51,479.26L78.79,479.26L79.08,479.26L79.36,479.26L79.65,479.26L79.93,479.26L80.22,479.26L80.5,479.26L80.78,479.26L81.07,479.26L81.35,479.26L81.64,479.26L81.92,479.26L82.21,479.26L82.49,479.26L82.78,479.27L83.06,479.27L83.34,479.27L83.63,479.27L83.91,479.27L84.2,479.27L84.48,479.27L84.77,479.27L85.05,479.27L85.34,479.28L85.62,479.28L85.9,479.28L86.19,479.28L86.47,479.28L86.76,479.28L87.04,479.29L87.33,479.29L87.61,479.29L87.9,479.29L88.18,479.29L88.46,479.29L88.75,479.3L89.03,479.3L89.32,479.3L89.6,479.3L89.89,479.3L90.17,479.3L90.45,479.31L90.74,479.31L91.02,479.31L91.31,479.31L91.59,479.31L91.88,479.32L92.16,479.32L92.45,479.32L92.73,479.32L93.01,479.33L93.3,479.33L93.58,479.33L93.87,479.33L94.15,479.34L94.44,479.34L94.72,479.34L95.01,479.34L95.29,479.35L95.57,479.35L95.86,479.35L96.14,479.35L96.43,479.36L96.71,479.36L97,479.36L97.28,479.37L97.57,479.37L97.85,479.37L98.13,479.37L98.42,479.38L98.7,479.38L98.99,479.38L99.27,479.39L99.56,479.39L99.84,479.39L100.12,479.4L100.41,479.4L100.69,479.4L100.98,479.4L101.26,479.41L101.55,479.41L101.83,479.41L102.12,479.42L102.4,479.42L102.68,479.42L102.97,479.43L103.25,479.43L103.54,479.44L103.82,479.44L104.11,479.44L104.39,479.45L104.68,479.45L104.96,479.45L105.24,479.46L105.53,479.46L105.81,479.46L106.1,479.47L106.38,479.47L106.67,479.48L106.95,479.48L107.24,479.48L107.52,479.49L107.8,479.49L108.09,479.5L108.37,479.5L108.66,479.5L108.94,479.51L109.23,479.51L109.51,479.52L109.79,479.52L110.08,479.52L110.36,479.53L110.65,479.53L110.93,479.54L111.22,479.54L111.5,479.55L111.79,479.55L112.07,479.56L112.35,479.56L112.64,479.57L112.92,479.57L113.21,479.58L113.49,479.59L113.78,479.59L114.06,479.6L114.35,479.61L114.63,479.62L114.91,479.62L115.2,479.63L115.48,479.64L115.77,479.65L116.05,479.66L116.34,479.67L116.62,479.68L116.91,479.69L117.19,479.7L117.47,479.71L117.76,479.72L118.04,479.74L118.33,479.75L118.61,479.76L118.9,479.77L119.18,479.78L119.46,479.8L119.75,479.81L120.03,479.82L120.32,479.84L120.6,479.85L120.89,479.87L121.17,479.88L121.46,479.9L121.74,479.91L122.02,479.93L122.31,479.94L122.59,479.96L122.88,479.98L123.16,479.99L123.45,480.01L123.73,480.03L124.02,480.05L124.3,480.06L124.58,480.08L124.87,480.1L125.15,480.12L125.44,480.14L125.72,480.16L126.01,480.18L126.29,480.21L126.57,480.23L126.86,480.26L127.14,480.28L127.43,480.31L127.71,480.34L128,480.37L128.28,480.4L128.57,480.43L128.85,480.47L129.13,480.5L129.42,480.54L129.7,480.58L129.99,480.62L130.27,480.66L130.56,480.7L130.84,480.74L131.13,480.79L131.41,480.83L131.69,480.88L131.98,480.93L132.26,480.98L132.55,481.03L132.83,481.08L133.12,481.14L133.4,481.19L133.69,481.25L133.97,481.31L134.25,481.37L134.54,481.43L134.82,481.49L135.11,481.56L135.39,481.62L135.68,481.69L135.96,481.76L136.24,481.84L136.53,481.93L136.81,482.02L137.1,482.12L137.38,482.23L137.67,482.35L137.95,482.47L138.24,482.59L138.52,482.73L138.8,482.86L139.09,483.01L139.37,483.16L139.66,483.31L139.94,483.47L140.23,483.63L140.51,483.8L140.8,483.97L141.08,484.15L141.36,484.33L141.65,484.52L141.93,484.7L142.22,484.89L142.5,485.09L142.79,485.29L143.07,485.49L143.36,485.69L143.64,485.89L143.92,486.1L144.21,486.32L144.49,486.55L144.78,486.79L145.06,487.04L145.35,487.29L145.63,487.56L145.91,487.84L146.2,488.13L146.48,488.43L146.77,488.74L147.05,489.06L147.34,489.39L147.62,489.73L147.91,490.08L148.19,490.45L148.47,490.82L148.76,491.21L149.04,491.6L149.33,492.01L149.61,492.43L149.9,492.87L150.18,493.35L150.47,493.85L150.75,494.39L151.03,494.95L151.32,495.54L151.6,496.16L151.89,496.8L152.17,497.47L152.46,498.16L152.74,498.86L153.03,499.6L153.31,500.34L153.59,501.12L153.88,501.96L154.16,502.86L154.45,503.82L154.73,504.82L155.02,505.85L155.3,506.91L155.58,507.99L155.87,509.07L156.15,510.15L156.44,511.26L156.72,512.44L157.01,513.66L157.29,514.91L157.58,516.14L157.86,517.34L158.14,518.46L158.43,519.49L158.71,520.42L159,521.33L159.28,522.23L159.57,523.1L159.85,523.94L160.14,524.74L160.42,525.51L160.7,526.23L160.99,526.9L161.27,527.5L161.56,528.05L161.84,528.53L162.13,528.98L162.41,529.4L162.7,529.81L162.98,530.19L163.26,530.56L163.55,530.92L163.83,531.26L164.12,531.58L164.4,531.89L164.69,532.19L164.97,532.48L165.25,532.76L165.54,533.03L165.82,533.3L166.11,533.56L166.39,533.81L166.68,534.07L166.96,534.32L167.25,534.56L167.53,534.81L167.81,535.06L168.1,535.3L168.38,535.53L168.67,535.76L168.95,535.99L169.24,536.21L169.52,536.43L169.81,536.64L170.09,536.85L170.37,537.05L170.66,537.25L170.94,537.45L171.23,537.65L171.51,537.84L171.8,538.03L172.08,538.22L172.36,538.41L172.65,538.6L172.93,538.78L173.22,538.97L173.5,539.15L173.79,539.33L174.07,539.52L174.36,539.7L174.64,539.88L174.92,540.07L175.21,540.25L175.49,540.43L175.78,540.6L176.06,540.77L176.35,540.94L176.63,541.11L176.92,541.27L177.2,541.43L177.48,541.59L177.77,541.75L178.05,541.91L178.34,542.06L178.62,542.22L178.91,542.37L179.19,542.53L179.48,542.69L179.76,542.84L180.04,543L180.33,543.16L180.61,543.32L180.9,543.49L181.18,543.65L181.47,543.82L181.75,543.99L182.03,544.16L182.32,544.34L182.6,544.52L182.89,544.71L183.17,544.9L183.46,545.1L183.74,545.3L184.03,545.5L184.31,545.71L184.59,545.92L184.88,546.14L185.16,546.36L185.45,546.58L185.73,546.81L186.02,547.05L186.3,547.29L186.59,547.54L186.87,547.79L187.15,548.05L187.44,548.32L187.72,548.6L188.01,548.88L188.29,549.17L188.58,549.47L188.86,549.77L189.15,550.07L189.43,550.36L189.71,550.66L190,550.96L190.28,551.27L190.57,551.59L190.85,551.94L191.14,552.3L191.42,552.69L191.7,553.1L191.99,553.55L192.27,554.04L192.56,554.56L192.84,555.13L193.13,555.74L193.41,556.46L193.7,557.46L193.98,558.72L194.26,560.15L194.55,561.69L194.83,563.28L195.12,564.85L195.4,566.33L195.69,567.76L195.97,569.21L196.26,570.67L196.54,572.15L196.82,573.65L197.11,575.16L197.39,576.7L197.68,578.26L197.96,579.84L198.25,581.47L198.53,583.14L198.82,584.84L199.1,586.56L199.38,588.29L199.67,590.02L199.95,591.75L200.24,593.47L200.52,595.16L200.81,596.81L201.09,598.43L201.37,600.03L201.66,601.64L201.94,603.24L202.23,604.84L202.51,606.42L202.8,607.97L203.08,609.48L203.37,610.96L203.65,612.39L203.93,613.76L204.22,615.07L204.5,616.36L204.79,617.64L205.07,618.91L205.36,620.15L205.64,621.35L205.93,622.52L206.21,623.63L206.49,624.68L206.78,625.67L207.06,626.58L207.35,627.4L207.63,628.16L207.92,628.9L208.2,629.62L208.49,630.32L208.77,630.99L209.05,631.63L209.34,632.25L209.62,632.84L209.91,633.41L210.19,633.94L210.48,634.45L210.76,634.93L211.04,635.37L211.33,635.78L211.61,636.16L211.9,636.5L212.18,636.82L212.47,637.14L212.75,637.44L213.04,637.74L213.32,638.02L213.6,638.3L213.89,638.57L214.17,638.83L214.46,639.07L214.74,639.31L215.03,639.54L215.31,639.76L215.6,639.97L215.88,640.17L216.16,640.36L216.45,640.54L216.73,640.71L217.02,640.88L217.3,641.03L217.59,641.17L217.87,641.3L218.15,641.43L218.44,641.54L218.72,641.66L219.01,641.77L219.29,641.88L219.58,641.98L219.86,642.09L220.15,642.19L220.43,642.29L220.71,642.38L221,642.48L221.28,642.57L221.57,642.66L221.85,642.75L222.14,642.83L222.42,642.91L222.71,642.99L222.99,643.07L223.27,643.15L223.56,643.22L223.84,643.29L224.13,643.36L224.41,643.43L224.7,643.49L224.98,643.55L225.27,643.61L225.55,643.67L225.83,643.73L226.12,643.78L226.4,643.84L226.69,643.89L226.97,643.93L227.26,643.98L227.54,644.02L227.82,644.07L228.11,644.11L228.39,644.15L228.68,644.18L228.96,644.22L229.25,644.26L229.53,644.29L229.82,644.33L230.1,644.36L230.38,644.4L230.67,644.43L230.95,644.46L231.24,644.49L231.52,644.53L231.81,644.56L232.09,644.59L232.38,644.62L232.66,644.64L232.94,644.67L233.23,644.7L233.51,644.73L233.8,644.75L234.08,644.78L234.37,644.8L234.65,644.83L234.94,644.85L235.22,644.88L235.5,644.9L235.79,644.92L236.07,644.94L236.36,644.96L236.64,644.98L236.93,645L237.21,645.02L237.49,645.03L237.78,645.05L238.06,645.07L238.35,645.08L238.63,645.09L238.92,645.11L239.2,645.12L239.49,645.13L239.77,645.14L240.05,645.15L240.34,645.16L240.62,645.17L240.91,645.18L241.19,645.19L241.48,645.2L241.76,645.21L242.05,645.22L242.33,645.23L242.61,645.24L242.9,645.25L243.18,645.26L243.47,645.27L243.75,645.28L244.04,645.29L244.32,645.3L244.61,645.31L244.89,645.32L245.17,645.33L245.46,645.33L245.74,645.34L246.03,645.35L246.31,645.36L246.6,645.37L246.88,645.38L247.16,645.39L247.45,645.4L247.73,645.4L248.02,645.41L248.3,645.42L248.59,645.43L248.87,645.44L249.16,645.44L249.44,645.45L249.72,645.46L250.01,645.47L250.29,645.48L250.58,645.48L250.86,645.49L251.15,645.5L251.43,645.51L251.72,645.51L252,645.52L252.28,645.53L252.57,645.54L252.85,645.54L253.14,645.55L253.42,645.56L253.71,645.57L253.99,645.57L254.27,645.58L254.56,645.59L254.84,645.59L255.13,645.6L255.41,645.61L255.7,645.61L255.98,645.62L256.27,645.62L256.55,645.63L256.83,645.64L257.12,645.64L257.4,645.65L257.69,645.66L257.97,645.66L258.26,645.67L258.54,645.67L258.83,645.68L259.11,645.68L259.39,645.69L259.68,645.69L259.96,645.7L260.25,645.71L260.53,645.71L260.82,645.72L261.1,645.72L261.39,645.73L261.67,645.73L261.95,645.73L262.24,645.74L262.52,645.74L262.81,645.75L263.09,645.75L263.38,645.76L263.66,645.76L263.94,645.77L264.23,645.77L264.51,645.77L264.8,645.78L265.08,645.78L265.37,645.79L265.65,645.79L265.94,645.79L266.22,645.8L266.5,645.8L266.79,645.8L267.07,645.81L267.36,645.81L267.64,645.81L267.93,645.82L268.21,645.82L268.5,645.82L268.78,645.82L269.06,645.83L269.35,645.83L269.63,645.83L269.92,645.83L270.2,645.84L270.49,645.84L270.77,645.84L271.06,645.84L271.34,645.84L271.62,645.85L271.91,645.85L272.19,645.85L272.48,645.85L272.76,645.85L273.05,645.85L273.33,645.85L273.61,645.86L273.9,645.86L274.18,645.86L274.47,645.86L274.75,645.86" fill="none" stroke="#1a1aff" stroke-width="1.9" stroke-linejoin="round"/>
<path d="M75.95,479.54L76.23,479.54L76.52,479.54L76.8,479.54L77.09,479.54L77.37,479.54L77.66,479.54L77.94,479.54L78.23,479.54L78.51,479.54L78.79,479.54L79.08,479.54L79.36,479.54L79.65,479.54L79.93,479.54L80.22,479.54L80.5,479.54L80.78,479.54L81.07,479.54L81.35,479.54L81.64,479.54L81.92,479.54L82.21,479.54L82.49,479.54L82.78,479.54L83.06,479.54L83.34,479.54L83.63,479.54L83.91,479.54L84.2,479.54L84.48,479.54L84.77,479.54L85.05,479.54L85.34,479.55L85.62,479.55L85.9,479.55L86.19,479.55L86.47,479.55L86.76,479.55L87.04,479.55L87.33,479.56L87.61,479.56L87.9,479.56L88.18,479.56L88.46,479.56L88.75,479.57L89.03,479.57L89.32,479.57L89.6,479.57L89.89,479.58L90.17,479.58L90.45,479.58L90.74,479.59L91.02,479.59L91.31,479.59L91.59,479.59L91.88,479.6L92.16,479.6L92.45,479.6L92.73,479.61L93.01,479.61L93.3,479.62L93.58,479.62L93.87,479.62L94.15,479.63L94.44,479.63L94.72,479.64L95.01,479.64L95.29,479.64L95.57,479.65L95.86,479.65L96.14,479.66L96.43,479.66L96.71,479.67L97,479.67L97.28,479.68L97.57,479.68L97.85,479.69L98.13,479.69L98.42,479.7L98.7,479.7L98.99,479.71L99.27,479.71L99.56,479.72L99.84,479.72L100.12,479.73L100.41,479.73L100.69,479.74L100.98,479.75L101.26,479.75L101.55,479.76L101.83,479.76L102.12,479.77L102.4,479.78L102.68,479.78L102.97,479.79L103.25,479.8L103.54,479.8L103.82,479.81L104.11,479.82L104.39,479.82L104.68,479.83L104.96,479.84L105.24,479.84L105.53,479.85L105.81,479.86L106.1,479.86L106.38,479.87L106.67,479.88L106.95,479.89L107.24,479.89L107.52,479.9L107.8,479.91L108.09,479.92L108.37,479.93L108.66,479.93L108.94,479.94L109.23,479.95L109.51,479.96L109.79,479.97L110.08,479.97L110.36,479.98L110.65,479.99L110.93,480L111.22,480.01L111.5,480.02L111.79,480.02L112.07,480.03L112.35,480.04L112.64,480.05L112.92,480.06L113.21,480.07L113.49,480.08L113.78,480.09L114.06,480.09L114.35,480.1L114.63,480.11L114.91,480.12L115.2,480.13L115.48,480.14L115.77,480.15L116.05,480.16L116.34,480.17L116.62,480.18L116.91,480.19L117.19,480.2L117.47,480.21L117.76,480.22L118.04,480.23L118.33,480.24L118.61,480.25L118.9,480.26L119.18,480.27L119.46,480.28L119.75,480.3L120.03,480.31L120.32,480.32L120.6,480.34L120.89,480.35L121.17,480.37L121.46,480.39L121.74,480.41L122.02,480.42L122.31,480.44L122.59,480.46L122.88,480.49L123.16,480.51L123.45,480.53L123.73,480.55L124.02,480.58L124.3,480.6L124.58,480.63L124.87,480.65L125.15,480.68L125.44,480.71L125.72,480.73L126.01,480.76L126.29,480.79L126.57,480.82L126.86,480.85L127.14,480.88L127.43,480.91L127.71,480.95L128,480.98L128.28,481.01L128.57,481.05L128.85,481.08L129.13,481.12L129.42,481.15L129.7,481.19L129.99,481.22L130.27,481.26L130.56,481.3L130.84,481.34L131.13,481.39L131.41,481.43L131.69,481.48L131.98,481.53L132.26,481.58L132.55,481.63L132.83,481.68L133.12,481.74L133.4,481.8L133.69,481.86L133.97,481.92L134.25,481.99L134.54,482.06L134.82,482.13L135.11,482.2L135.39,482.27L135.68,482.35L135.96,482.43L136.24,482.51L136.53,482.59L136.81,482.67L137.1,482.76L137.38,482.85L137.67,482.94L137.95,483.04L138.24,483.14L138.52,483.23L138.8,483.34L139.09,483.44L139.37,483.55L139.66,483.66L139.94,483.77L140.23,483.88L140.51,484L140.8,484.13L141.08,484.26L141.36,484.41L141.65,484.56L141.93,484.73L142.22,484.9L142.5,485.08L142.79,485.28L143.07,485.48L143.36,485.69L143.64,485.91L143.92,486.14L144.21,486.38L144.49,486.63L144.78,486.89L145.06,487.16L145.35,487.44L145.63,487.73L145.91,488.03L146.2,488.33L146.48,488.65L146.77,488.98L147.05,489.33L147.34,489.71L147.62,490.13L147.91,490.58L148.19,491.06L148.47,491.58L148.76,492.12L149.04,492.69L149.33,493.29L149.61,493.92L149.9,494.57L150.18,495.24L150.47,495.94L150.75,496.67L151.03,497.41L151.32,498.18L151.6,499.02L151.89,499.95L152.17,500.95L152.46,502.02L152.74,503.15L153.03,504.32L153.31,505.54L153.59,506.78L153.88,508.05L154.16,509.34L154.45,510.63L154.73,511.95L155.02,513.34L155.3,514.78L155.58,516.27L155.87,517.79L156.15,519.35L156.44,520.93L156.72,522.53L157.01,524.13L157.29,525.74L157.58,527.34L157.86,528.97L158.14,530.63L158.43,532.33L158.71,534.05L159,535.78L159.28,537.51L159.57,539.24L159.85,540.96L160.14,542.65L160.42,544.31L160.7,545.93L160.99,547.5L161.27,549.06L161.56,550.59L161.84,552.1L162.13,553.59L162.41,555.07L162.7,556.53L162.98,557.97L163.26,559.4L163.55,560.91L163.83,562.49L164.12,564.07L164.4,565.6L164.69,566.99L164.97,568.19L165.25,569.13L165.54,569.8L165.82,570.41L166.11,570.96L166.39,571.48L166.68,571.96L166.96,572.4L167.25,572.81L167.53,573.19L167.81,573.55L168.1,573.88L168.38,574.2L168.67,574.51L168.95,574.81L169.24,575.11L169.52,575.4L169.81,575.7L170.09,576L170.37,576.3L170.66,576.59L170.94,576.87L171.23,577.14L171.51,577.41L171.8,577.67L172.08,577.92L172.36,578.17L172.65,578.41L172.93,578.64L173.22,578.87L173.5,579.09L173.79,579.31L174.07,579.53L174.36,579.74L174.64,579.95L174.92,580.15L175.21,580.35L175.49,580.54L175.78,580.73L176.06,580.92L176.35,581.1L176.63,581.28L176.92,581.45L177.2,581.62L177.48,581.79L177.77,581.95L178.05,582.12L178.34,582.28L178.62,582.44L178.91,582.59L179.19,582.75L179.48,582.91L179.76,583.06L180.04,583.22L180.33,583.37L180.61,583.53L180.9,583.69L181.18,583.85L181.47,584.01L181.75,584.17L182.03,584.33L182.32,584.5L182.6,584.67L182.89,584.84L183.17,585.01L183.46,585.19L183.74,585.38L184.03,585.56L184.31,585.74L184.59,585.93L184.88,586.11L185.16,586.29L185.45,586.48L185.73,586.66L186.02,586.85L186.3,587.03L186.59,587.22L186.87,587.41L187.15,587.6L187.44,587.8L187.72,587.99L188.01,588.19L188.29,588.4L188.58,588.6L188.86,588.81L189.15,589.02L189.43,589.24L189.71,589.46L190,589.69L190.28,589.92L190.57,590.16L190.85,590.4L191.14,590.64L191.42,590.89L191.7,591.14L191.99,591.39L192.27,591.64L192.56,591.9L192.84,592.16L193.13,592.43L193.41,592.7L193.7,592.99L193.98,593.28L194.26,593.58L194.55,593.89L194.83,594.22L195.12,594.56L195.4,594.92L195.69,595.29L195.97,595.69L196.26,596.1L196.54,596.53L196.82,596.98L197.11,597.47L197.39,598.03L197.68,598.65L197.96,599.33L198.25,600.06L198.53,600.84L198.82,601.65L199.1,602.5L199.38,603.38L199.67,604.28L199.95,605.19L200.24,606.14L200.52,607.19L200.81,608.34L201.09,609.54L201.37,610.78L201.66,612.02L201.94,613.24L202.23,614.41L202.51,615.5L202.8,616.58L203.08,617.66L203.37,618.74L203.65,619.79L203.93,620.82L204.22,621.81L204.5,622.75L204.79,623.64L205.07,624.47L205.36,625.23L205.64,625.98L205.93,626.7L206.21,627.41L206.49,628.09L206.78,628.75L207.06,629.39L207.35,630L207.63,630.58L207.92,631.14L208.2,631.67L208.49,632.16L208.77,632.63L209.05,633.07L209.34,633.49L209.62,633.89L209.91,634.28L210.19,634.67L210.48,635.04L210.76,635.4L211.04,635.75L211.33,636.09L211.61,636.42L211.9,636.73L212.18,637.04L212.47,637.34L212.75,637.62L213.04,637.9L213.32,638.17L213.6,638.42L213.89,638.67L214.17,638.9L214.46,639.13L214.74,639.35L215.03,639.55L215.31,639.76L215.6,639.96L215.88,640.16L216.16,640.36L216.45,640.55L216.73,640.74L217.02,640.93L217.3,641.11L217.59,641.29L217.87,641.47L218.15,641.64L218.44,641.81L218.72,641.97L219.01,642.13L219.29,642.28L219.58,642.43L219.86,642.57L220.15,642.71L220.43,642.84L220.71,642.96L221,643.08L221.28,643.19L221.57,643.3L221.85,643.4L222.14,643.49L222.42,643.58L222.71,643.66L222.99,643.73L223.27,643.79L223.56,643.86L223.84,643.92L224.13,643.99L224.41,644.05L224.7,644.11L224.98,644.16L225.27,644.22L225.55,644.27L225.83,644.33L226.12,644.38L226.4,644.43L226.69,644.48L226.97,644.53L227.26,644.58L227.54,644.62L227.82,644.67L228.11,644.71L228.39,644.75L228.68,644.79L228.96,644.83L229.25,644.87L229.53,644.9L229.82,644.94L230.1,644.97L230.38,645.01L230.67,645.04L230.95,645.07L231.24,645.1L231.52,645.12L231.81,645.15L232.09,645.18L232.38,645.2L232.66,645.22L232.94,645.25L233.23,645.27L233.51,645.29L233.8,645.3L234.08,645.32L234.37,645.34L234.65,645.36L234.94,645.38L235.22,645.39L235.5,645.41L235.79,645.43L236.07,645.44L236.36,645.46L236.64,645.48L236.93,645.49L237.21,645.51L237.49,645.52L237.78,645.54L238.06,645.55L238.35,645.56L238.63,645.58L238.92,645.59L239.2,645.61L239.49,645.62L239.77,645.63L240.05,645.64L240.34,645.66L240.62,645.67L240.91,645.68L241.19,645.69L241.48,645.7L241.76,645.71L242.05,645.72L242.33,645.73L242.61,645.74L242.9,645.75L243.18,645.76L243.47,645.77L243.75,645.78L244.04,645.79L244.32,645.79L244.61,645.8L244.89,645.81L245.17,645.82L245.46,645.82L245.74,645.83L246.03,645.83L246.31,645.84L246.6,645.85L246.88,645.85L247.16,645.86L247.45,645.86L247.73,645.86L248.02,645.87L248.3,645.87L248.59,645.88L248.87,645.88L249.16,645.89L249.44,645.89L249.72,645.89L250.01,645.9L250.29,645.9L250.58,645.91L250.86,645.91L251.15,645.91L251.43,645.92L251.72,645.92L252,645.92L252.28,645.93L252.57,645.93L252.85,645.94L253.14,645.94L253.42,645.94L253.71,645.95L253.99,645.95L254.27,645.95L254.56,645.96L254.84,645.96L255.13,645.97L255.41,645.97L255.7,645.97L255.98,645.98L256.27,645.98L256.55,645.98L256.83,645.99L257.12,645.99L257.4,645.99L257.69,646L257.97,646L258.26,646L258.54,646.01L258.83,646.01L259.11,646.01L259.39,646.01L259.68,646.02L259.96,646.02L260.25,646.02L260.53,646.03L260.82,646.03L261.1,646.03L261.39,646.04L261.67,646.04L261.95,646.04L262.24,646.04L262.52,646.05L262.81,646.05L263.09,646.05L263.38,646.05L263.66,646.06L263.94,646.06L264.23,646.06L264.51,646.06L264.8,646.07L265.08,646.07L265.37,646.07L265.65,646.07L265.94,646.08L266.22,646.08L266.5,646.08L266.79,646.08L267.07,646.09L267.36,646.09L267.64,646.09L267.93,646.09L268.21,646.09L268.5,646.1L268.78,646.1L269.06,646.1L269.35,646.1L269.63,646.1L269.92,646.11L270.2,646.11L270.49,646.11L270.77,646.11L271.06,646.11L271.34,646.11L271.62,646.12L271.91,646.12L272.19,646.12L272.48,646.12L272.76,646.12L273.05,646.12L273.33,646.12L273.61,646.13L273.9,646.13L274.18,646.13L274.47,646.13L274.75,646.13" fill="none" stroke="#1a1aff" stroke-width="1.9" stroke-linejoin="round"/>
<rect x="61" y="463.1" width="236.1" height="198.2" fill="none" stroke="#000" stroke-width="2"/>
<line x1="80.7" y1="661.3" x2="80.7" y2="656.3" stroke="#000" stroke-width="2"/>
<text x="80.7" y="678.8" font-family='"Liberation Sans", sans-serif' font-size="15.3" fill="#000" font-weight="bold" font-style="normal" text-anchor="middle" >-100</text>
<line x1="130.05" y1="661.3" x2="130.05" y2="656.3" stroke="#000" stroke-width="2"/>
<text x="130.05" y="678.8" font-family='"Liberation Sans", sans-serif' font-size="15.3" fill="#000" font-weight="bold" font-style="normal" text-anchor="middle" >-50</text>
<line x1="179.4" y1="661.3" x2="179.4" y2="656.3" stroke="#000" stroke-width="2"/>
<text x="179.4" y="678.8" font-family='"Liberation Sans", sans-serif' font-size="15.3" fill="#000" font-weight="bold" font-style="normal" text-anchor="middle" >0</text>
<line x1="228.75" y1="661.3" x2="228.75" y2="656.3" stroke="#000" stroke-width="2"/>
<text x="228.75" y="678.8" font-family='"Liberation Sans", sans-serif' font-size="15.3" fill="#000" font-weight="bold" font-style="normal" text-anchor="middle" >50</text>
<line x1="278.1" y1="661.3" x2="278.1" y2="656.3" stroke="#000" stroke-width="2"/>
<text x="278.1" y="678.8" font-family='"Liberation Sans", sans-serif' font-size="15.3" fill="#000" font-weight="bold" font-style="normal" text-anchor="middle" >100</text>
<line x1="105.38" y1="661.3" x2="105.38" y2="658.3" stroke="#000" stroke-width="2"/>
<line x1="154.72" y1="661.3" x2="154.72" y2="658.3" stroke="#000" stroke-width="2"/>
<line x1="204.08" y1="661.3" x2="204.08" y2="658.3" stroke="#000" stroke-width="2"/>
<line x1="253.43" y1="661.3" x2="253.43" y2="658.3" stroke="#000" stroke-width="2"/>
<line x1="61" y1="633.9" x2="65" y2="633.9" stroke="#000" stroke-width="2"/>
<text x="55.7" y="638.6" font-family='"Liberation Sans", sans-serif' font-size="15.3" fill="#000" font-weight="bold" font-style="normal" text-anchor="end" >-50</text>
<line x1="61" y1="562.7" x2="65" y2="562.7" stroke="#000" stroke-width="2"/>
<text x="55.7" y="567.4" font-family='"Liberation Sans", sans-serif' font-size="15.3" fill="#000" font-weight="bold" font-style="normal" text-anchor="end" >0</text>
<line x1="61" y1="491.5" x2="65" y2="491.5" stroke="#000" stroke-width="2"/>
<text x="55.7" y="496.2" font-family='"Liberation Sans", sans-serif' font-size="15.3" fill="#000" font-weight="bold" font-style="normal" text-anchor="end" >50</text>
<line x1="61" y1="598.3" x2="63.5" y2="598.3" stroke="#000" stroke-width="2"/>
<line x1="61" y1="527.1" x2="63.5" y2="527.1" stroke="#000" stroke-width="2"/>
<g id="ct1" transform="translate(160.469,492.412) scale(0.9260,0.9727)"><text x="0" y="0" font-family='"Liberation Sans", sans-serif' font-size="15.5" fill="#2a2af5" font-weight="normal" font-style="normal" text-anchor="start" >Ta(3)/NiO(1)/YIG</text></g>
<g id="ct2" transform="translate(216.816,570.841) scale(0.9079,1.0140)"><text x="0" y="0" font-family='"Liberation Sans", sans-serif' font-size="15.5" fill="#ff2a2a" font-weight="normal" font-style="normal" text-anchor="start" >Ta(3)/YIG</text></g>
<g id="cV" transform="translate(23.402,564.673) scale(1.0412,1.0837)"><text transform="rotate(-90)" x="0" y="0" font-family='"Liberation Sans", sans-serif' font-size="14.5" fill="#000" font-weight="bold" font-style="normal" text-anchor="middle"><tspan font-style="italic">V</tspan> (<tspan font-family='"Liberation Serif", serif' font-weight="normal">&#956;</tspan>V)</text></g>
<g id="cH" transform="translate(152.255,698.845) scale(1.0628,1.2085)"><text x="0" y="0" font-family='"Liberation Sans", sans-serif' font-size="13.5" fill="#000" font-weight="bold" font-style="normal" text-anchor="start" ><tspan font-style="italic">&#956;</tspan><tspan font-size="9" dy="3.5">0</tspan><tspan font-style="italic" dy="-3.5">H</tspan> (mT)</text></g>
<rect x="379.6" y="223.1" width="298.6" height="190.3" fill="none" stroke="#5a5a5a" stroke-width="1.6"/>
<line x1="398.1" y1="413.4" x2="398.1" y2="408.4" stroke="#5a5a5a" stroke-width="1.4"/>
<line x1="416.78" y1="413.4" x2="416.78" y2="410.4" stroke="#5a5a5a" stroke-width="1.4"/>
<line x1="435.46" y1="413.4" x2="435.46" y2="410.4" stroke="#5a5a5a" stroke-width="1.4"/>
<line x1="454.14" y1="413.4" x2="454.14" y2="410.4" stroke="#5a5a5a" stroke-width="1.4"/>
<line x1="472.82" y1="413.4" x2="472.82" y2="410.4" stroke="#5a5a5a" stroke-width="1.4"/>
<line x1="491.5" y1="413.4" x2="491.5" y2="408.4" stroke="#5a5a5a" stroke-width="1.4"/>
<line x1="510.18" y1="413.4" x2="510.18" y2="410.4" stroke="#5a5a5a" stroke-width="1.4"/>
<line x1="528.86" y1="413.4" x2="528.86" y2="410.4" stroke="#5a5a5a" stroke-width="1.4"/>
<line x1="547.54" y1="413.4" x2="547.54" y2="410.4" stroke="#5a5a5a" stroke-width="1.4"/>
<line x1="566.22" y1="413.4" x2="566.22" y2="410.4" stroke="#5a5a5a" stroke-width="1.4"/>
<line x1="584.9" y1="413.4" x2="584.9" y2="408.4" stroke="#5a5a5a" stroke-width="1.4"/>
<line x1="603.58" y1="413.4" x2="603.58" y2="410.4" stroke="#5a5a5a" stroke-width="1.4"/>
<line x1="622.26" y1="413.4" x2="622.26" y2="410.4" stroke="#5a5a5a" stroke-width="1.4"/>
<line x1="640.94" y1="413.4" x2="640.94" y2="410.4" stroke="#5a5a5a" stroke-width="1.4"/>
<line x1="659.62" y1="413.4" x2="659.62" y2="410.4" stroke="#5a5a5a" stroke-width="1.4"/>
<line x1="678.3" y1="413.4" x2="678.3" y2="408.4" stroke="#5a5a5a" stroke-width="1.4"/>
<line x1="379.6" y1="413.4" x2="384.6" y2="413.4" stroke="#5a5a5a" stroke-width="1.4"/>
<line x1="379.6" y1="392.22" x2="382.6" y2="392.22" stroke="#5a5a5a" stroke-width="1.4"/>
<line x1="379.6" y1="371.05" x2="382.6" y2="371.05" stroke="#5a5a5a" stroke-width="1.4"/>
<line x1="379.6" y1="349.87" x2="382.6" y2="349.87" stroke="#5a5a5a" stroke-width="1.4"/>
<line x1="379.6" y1="328.7" x2="384.6" y2="328.7" stroke="#5a5a5a" stroke-width="1.4"/>
<line x1="379.6" y1="307.52" x2="382.6" y2="307.52" stroke="#5a5a5a" stroke-width="1.4"/>
<line x1="379.6" y1="286.35" x2="382.6" y2="286.35" stroke="#5a5a5a" stroke-width="1.4"/>
<line x1="379.6" y1="265.17" x2="382.6" y2="265.17" stroke="#5a5a5a" stroke-width="1.4"/>
<line x1="379.6" y1="244" x2="384.6" y2="244" stroke="#5a5a5a" stroke-width="1.4"/>
<text x="398.1" y="436.3" font-family='"Liberation Sans", sans-serif' font-size="19.3" fill="#111" font-weight="normal" font-style="normal" text-anchor="middle" >0</text>
<text x="491.5" y="436.3" font-family='"Liberation Sans", sans-serif' font-size="19.3" fill="#111" font-weight="normal" font-style="normal" text-anchor="middle" >1</text>
<text x="584.9" y="436.3" font-family='"Liberation Sans", sans-serif' font-size="19.3" fill="#111" font-weight="normal" font-style="normal" text-anchor="middle" >2</text>
<text x="678.3" y="436.3" font-family='"Liberation Sans", sans-serif' font-size="19.3" fill="#111" font-weight="normal" font-style="normal" text-anchor="middle" >3</text>
<text x="374.6" y="419.4" font-family='"Liberation Sans", sans-serif' font-size="19.3" fill="#111" font-weight="normal" font-style="normal" text-anchor="end" >0.0</text>
<text x="374.6" y="334.7" font-family='"Liberation Sans", sans-serif' font-size="19.3" fill="#111" font-weight="normal" font-style="normal" text-anchor="end" >0.4</text>
<text x="374.6" y="250" font-family='"Liberation Sans", sans-serif' font-size="19.3" fill="#111" font-weight="normal" font-style="normal" text-anchor="end" >0.8</text>
<path d="M398.1,318.32L401.66,315.14L406.46,310.89L412.22,305.79L418.68,300.07L425.57,293.97L432.62,287.69L439.57,281.48L446.14,275.56L452.08,270.15L457.11,265.48L460.96,261.79L463.67,258.95L465.54,256.67L466.72,254.88L467.34,253.49L467.55,252.45L467.48,251.67L467.28,251.09L467.09,250.64L467.05,250.24L467.29,249.81L467.96,249.29L468.97,248.71L470.09,248.16L471.32,247.67L472.61,247.26L473.96,246.96L475.32,246.79L476.67,246.79L477.99,246.96L479.26,247.35L480.44,247.98L481.51,248.87L482.44,250.11L483.26,251.73L484,253.66L484.67,255.84L485.31,258.18L485.95,260.62L486.61,263.1L487.33,265.54L488.13,267.87L489.05,270.03L490.1,271.95L491.32,273.68L492.7,275.33L494.2,276.9L495.79,278.41L497.43,279.86L499.09,281.26L500.73,282.63L502.32,283.96L503.83,285.26L505.21,286.55L506.44,287.83L507.44,288.91L508.18,289.64L508.75,290.16L509.2,290.57L509.62,290.99L510.07,291.53L510.62,292.31L511.34,293.44L512.3,295.04L513.57,297.23L515.22,300.11L517.27,303.88L519.62,308.5L522.25,313.81L525.11,319.64L528.14,325.79L531.31,332.1L534.56,338.39L537.86,344.49L541.15,350.21L544.39,355.38L547.54,359.83L550.53,363.65L553.38,367.1L556.16,370.23L558.92,373.07L561.72,375.66L564.64,378.06L567.72,380.31L571.04,382.45L574.66,384.52L578.64,386.56L583.03,388.63L588.15,390.69L594.11,392.68L600.69,394.61L607.67,396.44L614.83,398.18L621.95,399.8L628.82,401.29L635.21,402.65L640.91,403.86L645.69,404.91L649.35,405.78" fill="none" stroke="#ff2020" stroke-width="1.6" stroke-dasharray="3.2,2.2"/>
<path d="M398.1,373.59L401.67,373.02L406.49,372.31L412.27,371.49L418.76,370.56L425.67,369.55L432.75,368.46L439.72,367.33L446.31,366.16L452.26,364.96L457.3,363.77L461.15,362.58L463.84,361.55L465.69,360.74L466.83,360.05L467.41,359.39L467.57,358.68L467.46,357.8L467.22,356.68L466.98,355.2L466.9,353.29L467.12,350.84L467.78,347.76L468.78,343.71L469.91,338.59L471.15,332.67L472.46,326.19L473.83,319.42L475.21,312.62L476.59,306.05L477.94,299.96L479.23,294.61L480.42,290.27L481.51,287.2L482.45,285.34L483.28,284.38L484.02,284.21L484.7,284.69L485.34,285.71L485.98,287.13L486.65,288.83L487.36,290.68L488.16,292.55L489.06,294.33L490.1,295.88L491.3,297.36L492.65,299.02L494.11,300.81L495.65,302.74L497.25,304.76L498.86,306.87L500.46,309.04L502.01,311.24L503.49,313.47L504.85,315.7L506.07,317.9L507.07,320.11L507.82,322.37L508.41,324.66L508.89,327L509.34,329.36L509.82,331.75L510.41,334.17L511.16,336.6L512.16,339.04L513.46,341.49L515.13,343.95L517.32,346.52L520.04,349.29L523.16,352.19L526.56,355.15L530.11,358.1L533.68,360.97L537.16,363.71L540.41,366.24L543.3,368.49L545.72,370.4L547.54,371.9" fill="none" stroke="#111" stroke-width="1.6" stroke-dasharray="3.2,2.2"/>
<path d="M481.51,294.61 V279.57 M479.31,294.61 h4.4 M479.31,279.57 h4.4" stroke="#111" stroke-width="1.2" fill="none"/>
<path d="M490.1,301.17 V290.58 M487.9,301.17 h4.4 M487.9,290.58 h4.4" stroke="#111" stroke-width="1.2" fill="none"/>
<path d="M490.1,280.63 V263.69 M487.9,280.63 h4.4 M487.9,263.69 h4.4" stroke="#ff2020" stroke-width="1.2" fill="none"/>
<circle cx="398.1" cy="318.32" r="3.2" fill="#fff" stroke="#ff2020" stroke-width="1.7"/>
<circle cx="460.96" cy="261.79" r="3.2" fill="#fff" stroke="#ff2020" stroke-width="1.7"/>
<circle cx="467.96" cy="249.29" r="3.2" fill="#fff" stroke="#ff2020" stroke-width="1.7"/>
<circle cx="481.51" cy="248.87" r="3.2" fill="#fff" stroke="#ff2020" stroke-width="1.7"/>
<circle cx="490.1" cy="271.95" r="3.2" fill="#fff" stroke="#ff2020" stroke-width="1.7"/>
<circle cx="506.44" cy="287.83" r="3.2" fill="#fff" stroke="#ff2020" stroke-width="1.7"/>
<circle cx="515.22" cy="300.11" r="3.2" fill="#fff" stroke="#ff2020" stroke-width="1.7"/>
<circle cx="547.54" cy="359.83" r="3.2" fill="#fff" stroke="#ff2020" stroke-width="1.7"/>
<circle cx="583.03" cy="388.63" r="3.2" fill="#fff" stroke="#ff2020" stroke-width="1.7"/>
<circle cx="649.35" cy="405.78" r="3.2" fill="#fff" stroke="#ff2020" stroke-width="1.7"/>
<path d="M395.5,317.32 h5.2 M395.5,319.32 h5.2 M398.1,315.32 v6" stroke="#ff2020" stroke-width="0.9"/>
<path d="M544.94,358.83 h5.2 M544.94,360.83 h5.2 M547.54,356.83 v6" stroke="#ff2020" stroke-width="0.9"/>
<path d="M646.75,404.78 h5.2 M646.75,406.78 h5.2 M649.35,402.78 v6" stroke="#ff2020" stroke-width="0.9"/>
<path d="M580.43,387.63 h5.2 M580.43,389.63 h5.2 M583.03,385.63 v6" stroke="#ff2020" stroke-width="0.9"/>
<circle cx="398.1" cy="373.59" r="4.2" fill="url(#gk)"/>
<circle cx="461.15" cy="362.58" r="4.2" fill="url(#gk)"/>
<circle cx="467.78" cy="347.76" r="4.2" fill="url(#gk)"/>
<circle cx="481.51" cy="287.2" r="4.2" fill="url(#gk)"/>
<circle cx="490.1" cy="295.88" r="4.2" fill="url(#gk)"/>
<circle cx="506.07" cy="317.9" r="4.2" fill="url(#gk)"/>
<circle cx="515.13" cy="343.95" r="4.2" fill="url(#gk)"/>
<circle cx="547.54" cy="371.9" r="4.2" fill="url(#gk)"/>
<line x1="517.7" y1="239" x2="551" y2="239" stroke="#111" stroke-width="1.6" stroke-dasharray="3.2,2.2"/><circle cx="534.8" cy="239" r="4.2" fill="url(#gk)"/>
<line x1="517.7" y1="257.7" x2="551" y2="257.7" stroke="#ff2020" stroke-width="1.6" stroke-dasharray="3.2,2.2"/><circle cx="534.8" cy="257.7" r="3.2" fill="#fff" stroke="#ff2020" stroke-width="1.7"/>
<g id="eleg1" transform="translate(554.356,244.165) scale(0.9917,0.9932)"><text x="0" y="0" font-family='"Liberation Sans", sans-serif' font-size="14.3" fill="#111" font-weight="bold" font-style="normal" text-anchor="start" >Pt/NiO/FeCoB</text></g>
<g id="eleg2" transform="translate(554.573,262.499) scale(0.9963,0.9912)"><text x="0" y="0" font-family='"Liberation Sans", sans-serif' font-size="14.3" fill="#ff2020" font-weight="bold" font-style="normal" text-anchor="start" >Pt-Hf /NiO/FeCoB</text></g>
<g id="exi" transform="translate(333.867,327.951) scale(1.2531,1.3859)"><text transform="rotate(-90)" x="0" y="0" font-family='"Liberation Serif", serif' font-size="18" fill="#111" font-weight="normal" font-style="italic" text-anchor="middle">&#958;</text></g>
<g id="ej" transform="translate(320.744,316.331) scale(1.1243,1.1888)"><text transform="rotate(-90)" x="0" y="0" font-family='"Liberation Sans", sans-serif' font-size="13" fill="#111" font-weight="normal" font-style="normal" text-anchor="middle">j</text></g>
<g id="edl" transform="translate(343.152,312.131) scale(1.1055,1.0864)"><text transform="rotate(-90)" x="0" y="0" font-family='"Liberation Sans", sans-serif' font-size="13.5" fill="#111" font-weight="normal" font-style="normal" text-anchor="middle">DL</text></g>
<g id="et" transform="translate(489.519,464.518) scale(0.9881,1.0943)"><text x="0" y="0" font-family='"Liberation Sans", sans-serif' font-size="19" fill="#111" font-weight="normal" font-style="italic" text-anchor="start" >t</text></g>
<g id="eNiO" transform="translate(494.191,472.784) scale(1.2146,1.1458)"><text x="0" y="0" font-family='"Liberation Sans", sans-serif' font-size="13.5" fill="#111" font-weight="normal" font-style="normal" text-anchor="start" >NiO</text></g>
<g id="enm" transform="translate(525.978,466.282) scale(1.0898,1.1041)"><text x="0" y="0" font-family='"Liberation Sans", sans-serif' font-size="19" fill="#111" font-weight="normal" font-style="normal" text-anchor="start" >(nm)</text></g>
<rect x="379.5" y="491.2" width="302.4" height="152.4" fill="none" stroke="#000" stroke-width="2"/>
<line x1="407" y1="643.6" x2="407" y2="639.1" stroke="#000" stroke-width="1.4"/>
<line x1="423.14" y1="643.6" x2="423.14" y2="639.1" stroke="#000" stroke-width="1.4"/>
<line x1="434.59" y1="643.6" x2="434.59" y2="639.1" stroke="#000" stroke-width="1.4"/>
<line x1="443.47" y1="643.6" x2="443.47" y2="639.1" stroke="#000" stroke-width="1.4"/>
<line x1="450.73" y1="643.6" x2="450.73" y2="639.1" stroke="#000" stroke-width="1.4"/>
<line x1="456.87" y1="643.6" x2="456.87" y2="639.1" stroke="#000" stroke-width="1.4"/>
<line x1="462.19" y1="643.6" x2="462.19" y2="639.1" stroke="#000" stroke-width="1.4"/>
<line x1="466.88" y1="643.6" x2="466.88" y2="639.1" stroke="#000" stroke-width="1.4"/>
<line x1="471.07" y1="643.6" x2="471.07" y2="635.1" stroke="#000" stroke-width="1.6"/>
<line x1="498.67" y1="643.6" x2="498.67" y2="639.1" stroke="#000" stroke-width="1.4"/>
<line x1="514.81" y1="643.6" x2="514.81" y2="639.1" stroke="#000" stroke-width="1.4"/>
<line x1="526.26" y1="643.6" x2="526.26" y2="639.1" stroke="#000" stroke-width="1.4"/>
<line x1="535.14" y1="643.6" x2="535.14" y2="639.1" stroke="#000" stroke-width="1.4"/>
<line x1="542.4" y1="643.6" x2="542.4" y2="639.1" stroke="#000" stroke-width="1.4"/>
<line x1="548.54" y1="643.6" x2="548.54" y2="639.1" stroke="#000" stroke-width="1.4"/>
<line x1="553.86" y1="643.6" x2="553.86" y2="639.1" stroke="#000" stroke-width="1.4"/>
<line x1="558.55" y1="643.6" x2="558.55" y2="639.1" stroke="#000" stroke-width="1.4"/>
<line x1="562.74" y1="643.6" x2="562.74" y2="635.1" stroke="#000" stroke-width="1.6"/>
<line x1="590.34" y1="643.6" x2="590.34" y2="639.1" stroke="#000" stroke-width="1.4"/>
<line x1="606.48" y1="643.6" x2="606.48" y2="639.1" stroke="#000" stroke-width="1.4"/>
<line x1="617.93" y1="643.6" x2="617.93" y2="639.1" stroke="#000" stroke-width="1.4"/>
<line x1="626.81" y1="643.6" x2="626.81" y2="639.1" stroke="#000" stroke-width="1.4"/>
<line x1="634.07" y1="643.6" x2="634.07" y2="639.1" stroke="#000" stroke-width="1.4"/>
<line x1="640.21" y1="643.6" x2="640.21" y2="639.1" stroke="#000" stroke-width="1.4"/>
<line x1="645.53" y1="643.6" x2="645.53" y2="639.1" stroke="#000" stroke-width="1.4"/>
<line x1="650.22" y1="643.6" x2="650.22" y2="639.1" stroke="#000" stroke-width="1.4"/>
<line x1="654.41" y1="643.6" x2="654.41" y2="635.1" stroke="#000" stroke-width="1.6"/>
<line x1="379.5" y1="624.65" x2="383.5" y2="624.65" stroke="#000" stroke-width="1.4"/>
<line x1="379.5" y1="613.85" x2="383.5" y2="613.85" stroke="#000" stroke-width="1.4"/>
<line x1="379.5" y1="606.19" x2="383.5" y2="606.19" stroke="#000" stroke-width="1.4"/>
<line x1="379.5" y1="600.25" x2="383.5" y2="600.25" stroke="#000" stroke-width="1.4"/>
<line x1="379.5" y1="595.4" x2="383.5" y2="595.4" stroke="#000" stroke-width="1.4"/>
<line x1="379.5" y1="591.3" x2="383.5" y2="591.3" stroke="#000" stroke-width="1.4"/>
<line x1="379.5" y1="587.74" x2="383.5" y2="587.74" stroke="#000" stroke-width="1.4"/>
<line x1="379.5" y1="584.6" x2="383.5" y2="584.6" stroke="#000" stroke-width="1.4"/>
<line x1="379.5" y1="581.8" x2="387" y2="581.8" stroke="#000" stroke-width="1.6"/>
<line x1="379.5" y1="563.35" x2="383.5" y2="563.35" stroke="#000" stroke-width="1.4"/>
<line x1="379.5" y1="552.55" x2="383.5" y2="552.55" stroke="#000" stroke-width="1.4"/>
<line x1="379.5" y1="544.89" x2="383.5" y2="544.89" stroke="#000" stroke-width="1.4"/>
<line x1="379.5" y1="538.95" x2="383.5" y2="538.95" stroke="#000" stroke-width="1.4"/>
<line x1="379.5" y1="534.1" x2="383.5" y2="534.1" stroke="#000" stroke-width="1.4"/>
<line x1="379.5" y1="530" x2="383.5" y2="530" stroke="#000" stroke-width="1.4"/>
<line x1="379.5" y1="526.44" x2="383.5" y2="526.44" stroke="#000" stroke-width="1.4"/>
<line x1="379.5" y1="523.3" x2="383.5" y2="523.3" stroke="#000" stroke-width="1.4"/>
<line x1="379.5" y1="520.5" x2="387" y2="520.5" stroke="#000" stroke-width="1.6"/>
<line x1="379.5" y1="502.05" x2="383.5" y2="502.05" stroke="#000" stroke-width="1.4"/>
<text x="379.4" y="667.2" font-family='"Liberation Sans", sans-serif' font-size="19.3" fill="#111" font-weight="normal" font-style="normal" text-anchor="middle" >10</text>
<text x="471.07" y="667.2" font-family='"Liberation Sans", sans-serif' font-size="19.3" fill="#111" font-weight="normal" font-style="normal" text-anchor="middle" >100</text>
<text x="562.74" y="667.2" font-family='"Liberation Sans", sans-serif' font-size="19.3" fill="#111" font-weight="normal" font-style="normal" text-anchor="middle" >1000</text>
<text x="654.41" y="667.2" font-family='"Liberation Sans", sans-serif' font-size="19.3" fill="#111" font-weight="normal" font-style="normal" text-anchor="middle" >10000</text>
<text x="370.6" y="527" font-family='"Liberation Sans", sans-serif' font-size="19.3" fill="#111" font-weight="normal" font-style="normal" text-anchor="end" >10</text>
<text x="367.4" y="588.9" font-family='"Liberation Sans", sans-serif' font-size="19.3" fill="#111" font-weight="normal" font-style="normal" text-anchor="end" >1</text>
<text x="368.4" y="649.9" font-family='"Liberation Sans", sans-serif' font-size="19.3" fill="#111" font-weight="normal" font-style="normal" text-anchor="end" >0.1</text>
<circle cx="431.1" cy="596.1" r="6.8" fill="url(#gb)"/>
<circle cx="482.2" cy="589.1" r="6.8" fill="url(#gb)"/>
<circle cx="514.3" cy="614.5" r="6.8" fill="url(#gb)"/>
<circle cx="562.5" cy="577.4" r="6.8" fill="url(#gb)"/>
<circle cx="593.2" cy="554" r="6.8" fill="url(#gb)"/>
<circle cx="664.6" cy="504.2" r="6.8" fill="url(#gb)"/>
<g id="f1" transform="translate(404.011,621.790) scale(1.0365,0.9972)"><text x="0" y="0" font-family='"Liberation Sans", sans-serif' font-size="17.5" fill="#ff2020" font-weight="normal" font-style="normal" text-anchor="start" >Pt/NiO</text></g>
<g id="f2" transform="translate(443.145,572.609) scale(1.0326,0.9622)"><text x="0" y="0" font-family='"Liberation Sans", sans-serif' font-size="17.5" fill="#2020e8" font-weight="normal" font-style="normal" text-anchor="start" >Pt-Hf/NiO</text></g>
<g id="f3" transform="translate(522.697,620.438) scale(1.0692,1.0340)"><text x="0" y="0" font-family='"Liberation Sans", sans-serif' font-size="17.5" fill="#ff22ff" font-weight="normal" font-style="normal" text-anchor="start" >W</text></g>
<g id="f4" transform="translate(543.515,603.120) scale(1.0141,0.9934)"><text x="0" y="0" font-family='"Liberation Sans", sans-serif' font-size="17.5" fill="#f0872a" font-weight="normal" font-style="normal" text-anchor="start" >BiSb</text></g>
<g id="f5" transform="translate(578.879,579.090) scale(1.0217,0.9383)"><text x="0" y="0" font-family='"Liberation Sans", sans-serif' font-size="17.5" fill="#8c8c8c" font-weight="normal" font-style="normal" text-anchor="start" >BiSe 8</text></g>
<g id="f6" transform="translate(626.196,529.707) scale(1.0171,0.9388)"><text x="0" y="0" font-family='"Liberation Sans", sans-serif' font-size="17.5" fill="#9b1c1c" font-weight="normal" font-style="normal" text-anchor="start" >BiSe 4</text></g>
<g id="fxi" transform="translate(335.290,591.097) scale(1.5550,1.8404)"><text transform="rotate(-90)" x="0" y="0" font-family='"Liberation Serif", serif' font-size="18" fill="#111" font-weight="normal" font-style="italic" text-anchor="middle">&#958;</text></g>
<g id="fj" transform="translate(322.180,581.727) scale(1.2256,1.2918)"><text transform="rotate(-90)" x="0" y="0" font-family='"Liberation Sans", sans-serif' font-size="13" fill="#111" font-weight="normal" font-style="normal" text-anchor="middle">j</text></g>
<g id="fdl" transform="translate(343.774,573.225) scale(1.2228,1.2708)"><text transform="rotate(-90)" x="0" y="0" font-family='"Liberation Sans", sans-serif' font-size="13.5" fill="#111" font-weight="normal" font-style="normal" text-anchor="middle">DL</text></g>
<g id="frho" transform="translate(481.645,689.445) scale(1.4550,1.1052)"><text x="0" y="0" font-family='"Liberation Serif", serif' font-size="19" fill="#111" font-weight="normal" font-style="italic" text-anchor="start" >&#961;</text></g>
<g id="fxx" transform="translate(493.306,696.979) scale(0.9628,1.1697)"><text x="0" y="0" font-family='"Liberation Sans", sans-serif' font-size="13.5" fill="#111" font-weight="normal" font-style="italic" text-anchor="start" >xx</text></g>
<g id="fun" transform="translate(511.071,690.785) scale(1.1864,1.1024)"><text x="0" y="0" font-family='"Liberation Sans", sans-serif' font-size="19" fill="#111" font-weight="normal" font-style="normal" text-anchor="start" >(&#956;&#937; cm)</text></g>
</svg></body></html>
